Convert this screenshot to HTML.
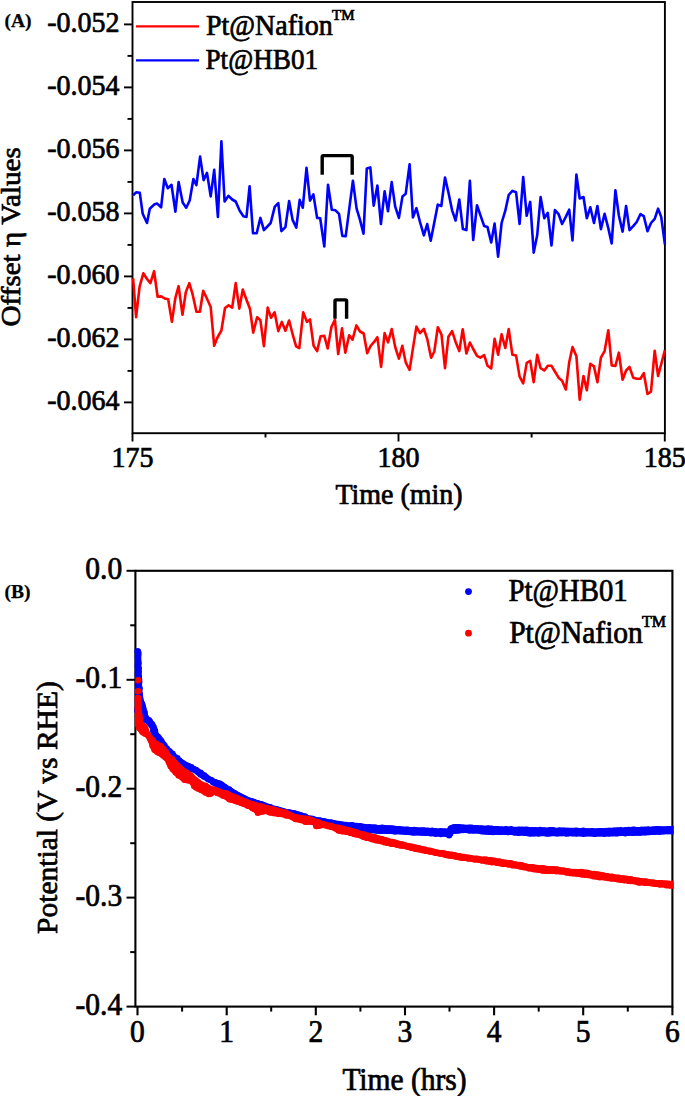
<!DOCTYPE html><html><head><meta charset="utf-8"><style>html,body{margin:0;padding:0;background:#fff;}svg{display:block;}text{font-family:"Liberation Serif",serif;fill:#000;stroke:#000;stroke-width:0.7px;}</style></head><body>
<svg width="685" height="1096" viewBox="0 0 685 1096">
<rect width="685" height="1096" fill="#fff"/>
<rect x="132.5" y="2.0" width="532.4" height="431.2" fill="none" stroke="#000" stroke-width="1.9"/>
<line x1="124" y1="24.4" x2="132.5" y2="24.4" stroke="#000" stroke-width="1.9"/>
<text transform="translate(119.5,31.9) scale(1,1.05)" font-size="28" text-anchor="end">-0.052</text>
<line x1="127.5" y1="55.9" x2="132.5" y2="55.9" stroke="#000" stroke-width="1.9"/>
<line x1="124" y1="87.4" x2="132.5" y2="87.4" stroke="#000" stroke-width="1.9"/>
<text transform="translate(119.5,94.9) scale(1,1.05)" font-size="28" text-anchor="end">-0.054</text>
<line x1="127.5" y1="118.9" x2="132.5" y2="118.9" stroke="#000" stroke-width="1.9"/>
<line x1="124" y1="150.4" x2="132.5" y2="150.4" stroke="#000" stroke-width="1.9"/>
<text transform="translate(119.5,157.9) scale(1,1.05)" font-size="28" text-anchor="end">-0.056</text>
<line x1="127.5" y1="181.9" x2="132.5" y2="181.9" stroke="#000" stroke-width="1.9"/>
<line x1="124" y1="213.4" x2="132.5" y2="213.4" stroke="#000" stroke-width="1.9"/>
<text transform="translate(119.5,220.9) scale(1,1.05)" font-size="28" text-anchor="end">-0.058</text>
<line x1="127.5" y1="244.9" x2="132.5" y2="244.9" stroke="#000" stroke-width="1.9"/>
<line x1="124" y1="276.4" x2="132.5" y2="276.4" stroke="#000" stroke-width="1.9"/>
<text transform="translate(119.5,283.9) scale(1,1.05)" font-size="28" text-anchor="end">-0.060</text>
<line x1="127.5" y1="307.9" x2="132.5" y2="307.9" stroke="#000" stroke-width="1.9"/>
<line x1="124" y1="339.4" x2="132.5" y2="339.4" stroke="#000" stroke-width="1.9"/>
<text transform="translate(119.5,346.9) scale(1,1.05)" font-size="28" text-anchor="end">-0.062</text>
<line x1="127.5" y1="370.9" x2="132.5" y2="370.9" stroke="#000" stroke-width="1.9"/>
<line x1="124" y1="402.4" x2="132.5" y2="402.4" stroke="#000" stroke-width="1.9"/>
<text transform="translate(119.5,409.9) scale(1,1.05)" font-size="28" text-anchor="end">-0.064</text>
<line x1="132.5" y1="433.2" x2="132.5" y2="441.5" stroke="#000" stroke-width="1.9"/>
<text transform="translate(132.5,466.8) scale(1,1.05)" font-size="28" text-anchor="middle">175</text>
<line x1="398.5" y1="433.2" x2="398.5" y2="441.5" stroke="#000" stroke-width="1.9"/>
<text transform="translate(398.5,466.8) scale(1,1.05)" font-size="28" text-anchor="middle">180</text>
<line x1="664.8" y1="433.2" x2="664.8" y2="441.5" stroke="#000" stroke-width="1.9"/>
<text transform="translate(664.8,466.8) scale(1,1.05)" font-size="28" text-anchor="middle">185</text>
<line x1="265.5" y1="433.2" x2="265.5" y2="437.5" stroke="#000" stroke-width="1.9"/>
<line x1="531.6" y1="433.2" x2="531.6" y2="437.5" stroke="#000" stroke-width="1.9"/>
<polyline points="133.1,195.4 136.1,192.3 139.8,192.9 142.7,213.8 147.0,223.0 149.8,208.7 154.1,204.6 157.2,203.6 161.1,207.3 164.3,179.0 167.8,188.2 171.5,184.8 175.4,211.7 178.6,182.1 182.7,202.6 186.2,207.7 189.7,200.5 193.4,179.0 196.4,185.2 200.1,156.6 203.6,180.1 207.0,172.9 210.7,196.4 214.2,169.9 217.9,216.9 221.4,141.2 224.6,201.5 228.5,195.8 232.2,199.5 235.7,201.5 239.7,210.7 243.4,216.2 246.5,216.9 249.6,186.2 253.0,233.2 256.7,233.2 260.4,217.9 263.9,230.1 270.7,223.0 274.8,206.6 278.3,203.2 281.4,231.2 285.4,227.1 289.1,201.1 292.6,219.9 296.3,227.7 299.7,199.9 302.8,207.7 306.5,167.8 310.0,200.5 313.4,194.4 317.1,217.9 320.2,218.3 324.3,246.5 328.0,184.8 331.8,209.7 335.5,210.3 339.0,213.8 342.3,235.9 345.7,236.3 352.9,180.7 356.6,208.7 360.0,219.9 363.5,233.8 366.8,168.4 370.3,167.4 373.7,205.6 377.4,185.6 380.9,224.0 384.6,191.3 388.0,211.3 391.7,182.1 395.2,206.6 398.9,217.9 402.5,196.4 405.7,193.8 409.6,164.3 412.9,217.5 416.4,208.1 420.0,222.0 423.9,235.3 427.2,224.0 430.7,240.8 434.1,223.6 437.8,204.6 441.3,206.0 445.0,177.6 448.4,192.3 452.1,210.3 455.6,220.5 459.3,199.5 462.9,229.1 466.4,230.1 469.9,180.7 473.2,240.0 477.0,205.2 480.3,214.8 484.2,226.1 487.5,227.1 491.2,242.4 494.6,223.6 498.1,256.7 501.6,223.0 505.3,210.7 508.7,195.0 512.4,190.9 516.1,192.3 519.6,224.0 523.2,177.0 526.7,215.8 530.2,201.9 533.7,252.6 537.2,235.3 540.6,197.0 544.3,218.3 547.8,212.8 551.5,245.5 554.9,210.1 558.6,214.2 562.1,224.0 565.8,216.9 569.2,209.7 572.5,240.4 576.4,174.6 579.7,198.5 583.5,197.0 586.8,218.3 590.3,207.3 594.0,223.0 597.4,206.0 600.9,229.1 604.6,213.8 608.3,228.1 611.7,243.4 615.4,190.3 618.9,215.8 622.6,231.6 626.1,206.0 629.5,230.1 633.2,226.1 636.7,222.0 640.4,214.2 643.8,216.2 647.5,231.2 651.0,223.0 654.7,218.9 658.1,208.7 661.2,216.9 664.9,244.4" fill="none" stroke="#0000ff" stroke-width="2.6" stroke-linejoin="round"/>
<polyline points="133.1,278.4 136.1,317.2 139.6,286.6 143.3,273.3 147.0,279.0 150.4,283.1 154.1,271.2 157.6,296.8 161.1,296.4 164.7,298.4 168.2,299.2 171.9,321.9 175.4,297.8 178.6,286.2 182.5,314.8 185.8,292.3 189.3,283.1 192.7,294.7 196.4,311.7 199.9,311.7 203.2,290.7 207.0,298.8 210.7,307.0 214.2,345.8 217.5,337.3 221.4,330.5 225.0,308.0 228.7,305.4 232.2,307.6 235.7,283.1 239.3,308.6 242.8,289.6 246.1,298.8 250.0,309.0 253.2,332.6 257.1,317.2 260.4,320.3 263.9,346.2 267.7,307.6 271.1,317.8 274.6,312.3 278.3,331.1 281.8,321.9 285.4,330.7 289.1,320.5 292.6,334.2 296.1,346.4 299.3,348.1 303.2,312.3 306.9,321.9 310.0,319.4 313.6,345.8 317.1,351.1 320.6,336.2 324.3,335.8 327.7,348.5 331.4,327.0 334.9,319.9 338.2,354.0 342.0,328.4 345.3,352.6 349.2,335.2 352.5,339.7 356.4,325.4 360.0,331.5 363.7,333.5 367.2,353.2 370.7,345.8 374.3,341.7 377.4,337.2 381.1,366.9 384.6,333.1 388.0,342.3 391.7,329.0 395.2,347.0 398.9,358.7 402.3,345.8 405.7,362.3 409.6,369.9 412.9,348.6 416.4,326.6 420.0,333.1 423.9,329.0 427.2,338.8 431.1,357.8 434.3,351.5 437.8,327.2 441.5,334.7 445.0,368.1 448.4,336.8 452.1,331.1 455.6,341.9 459.3,351.1 462.7,329.2 466.4,353.5 469.9,342.5 473.2,349.0 477.0,355.8 480.3,357.6 484.2,355.2 487.5,365.8 491.2,368.5 494.6,338.8 498.1,354.8 501.6,334.3 505.3,348.0 508.7,329.0 512.4,354.8 516.1,355.6 519.6,376.6 523.2,383.4 526.7,362.9 530.2,360.9 533.7,382.2 537.2,354.8 540.6,368.1 544.3,370.5 547.8,365.8 551.5,365.8 554.9,371.5 558.6,377.7 562.1,380.7 565.8,389.5 569.2,362.3 572.5,347.0 576.4,356.2 579.7,399.7 583.5,376.0 586.8,390.3 590.3,363.8 594.0,366.4 597.4,382.2 600.9,357.6 604.6,351.1 608.3,330.2 611.7,365.4 615.4,366.0 618.9,352.7 622.6,379.7 626.1,370.5 629.5,367.0 633.2,377.7 636.7,378.7 640.4,378.7 643.8,373.2 647.5,394.0 651.0,391.6 654.7,350.7 658.1,376.0 664.9,350.1" fill="none" stroke="#ff0000" stroke-width="2.6" stroke-linejoin="round"/>
<text transform="translate(19.8,236.8) rotate(-90) scale(1.045,1)" font-size="27.8" text-anchor="middle">Offset η Values</text>
<text transform="translate(399,504.2) scale(1,1.05)" font-size="28" text-anchor="middle">Time (min)</text>
<line x1="136" y1="26.3" x2="199" y2="26.3" stroke="#ff0000" stroke-width="2.2"/>
<line x1="136" y1="60.3" x2="199" y2="60.3" stroke="#0000ff" stroke-width="2.2"/>
<text transform="translate(206,34.7) scale(1,1.05)" font-size="28" text-anchor="start">Pt@Nafion</text>
<text x="332" y="20" font-size="15" text-anchor="start">TM</text>
<text transform="translate(205.5,68.5) scale(0.97,1.05)" font-size="28">Pt@HB01</text>
<path d="M322.2,174.7 V156.8 Q322.2,155.6 323.4,155.6 H351 Q352.2,155.6 352.2,156.8 V174.7" fill="none" stroke="#000" stroke-width="3.4"/>
<path d="M335,318.8 V301 Q335,299.9 336.1,299.9 H345.5 Q346.6,299.9 346.6,301 V318.8" fill="none" stroke="#000" stroke-width="3.4"/>
<text x="4.5" y="26.7" font-size="19.5" text-anchor="start" font-weight="bold" style="stroke-width:0.25px">(A)</text>
<rect x="135.4" y="570.8" width="537.0" height="435.80000000000007" fill="none" stroke="#000" stroke-width="2.1"/>
<clipPath id="cb"><rect x="134.3" y="568.8" width="539.2" height="439.80000000000007"/></clipPath>
<g clip-path="url(#cb)">
<polygon points="134.8,651.4 141.1,651.4 141.5,670.0 141.9,680.0 142.3,690.0 143.5,699.6 145.2,703.0 146.5,708.0 148.1,715.7 152.2,719.8 155.1,723.3 156.3,729.7 158.6,737.0 163.1,743.1 167.5,747.5 172.8,751.9 178.9,757.2 185.0,761.1 191.2,764.6 197.3,767.7 203.4,771.2 207.3,774.6 214.6,779.0 221.9,781.6 229.2,786.3 236.5,790.7 243.8,794.7 251.1,798.0 258.4,800.6 265.7,802.6 273.0,805.3 280.3,807.0 287.6,809.3 295.0,810.3 302.3,812.5 309.6,815.4 316.9,816.9 324.2,818.4 331.5,819.8 338.8,821.0 346.1,822.0 353.4,822.7 360.7,823.5 368.0,824.2 375.3,824.9 382.6,825.2 390.0,825.3 404.6,826.8 419.2,827.5 433.8,828.2 447.7,828.7 449.9,825.3 454.2,824.3 463.0,824.6 477.6,825.3 490.0,825.8 499.6,826.4 514.2,826.7 528.8,827.1 543.4,827.4 558.0,827.8 572.6,827.8 580.0,828.1 594.6,828.4 609.2,827.8 623.8,827.4 638.4,827.0 653.0,826.7 676.0,826.0 676.0,834.0 653.0,834.7 638.4,835.4 623.8,835.9 609.2,836.2 594.6,836.6 580.0,836.2 558.0,836.2 543.4,836.2 528.8,836.2 514.2,835.1 499.6,834.7 485.0,834.7 477.6,833.6 463.0,833.1 453.5,834.1 451.3,837.0 433.8,836.3 419.2,835.5 404.6,834.8 390.0,834.1 375.0,833.5 360.0,832.0 353.4,831.5 338.8,829.8 324.2,827.2 309.6,824.2 295.0,819.0 280.3,815.5 265.7,811.0 251.1,806.5 236.5,799.0 221.9,790.0 214.6,786.5 207.8,781.7 202.6,779.0 197.3,775.5 192.0,771.2 186.8,769.4 178.9,764.0 167.5,754.5 158.8,744.0 153.4,735.5 150.4,728.5 146.4,723.9 143.0,721.5 140.0,718.0 134.8,712.0 134.8,651.4" fill="#0000ff"/>
<circle cx="137.9" cy="651.4" r="3.2" fill="#0000ff"/>
<path d="M134.3,651.5a3.2,3.2 0 1,0 6.4,0a3.2,3.2 0 1,0 -6.4,0M135.2,653.2a3.2,3.2 0 1,0 6.4,0a3.2,3.2 0 1,0 -6.4,0M135.1,654.8a3.2,3.2 0 1,0 6.4,0a3.2,3.2 0 1,0 -6.4,0M134.5,656.5a3.2,3.2 0 1,0 6.4,0a3.2,3.2 0 1,0 -6.4,0M134.8,658.2a3.2,3.2 0 1,0 6.4,0a3.2,3.2 0 1,0 -6.4,0M134.8,659.9a3.2,3.2 0 1,0 6.4,0a3.2,3.2 0 1,0 -6.4,0M135.1,661.6a3.2,3.2 0 1,0 6.4,0a3.2,3.2 0 1,0 -6.4,0M135.3,663.3a3.2,3.2 0 1,0 6.4,0a3.2,3.2 0 1,0 -6.4,0M134.5,665.0a3.2,3.2 0 1,0 6.4,0a3.2,3.2 0 1,0 -6.4,0M134.5,666.7a3.2,3.2 0 1,0 6.4,0a3.2,3.2 0 1,0 -6.4,0M135.5,668.4a3.2,3.2 0 1,0 6.4,0a3.2,3.2 0 1,0 -6.4,0M135.0,670.1a3.2,3.2 0 1,0 6.4,0a3.2,3.2 0 1,0 -6.4,0M135.5,671.8a3.2,3.2 0 1,0 6.4,0a3.2,3.2 0 1,0 -6.4,0M134.6,673.5a3.2,3.2 0 1,0 6.4,0a3.2,3.2 0 1,0 -6.4,0M135.2,675.1a3.2,3.2 0 1,0 6.4,0a3.2,3.2 0 1,0 -6.4,0M135.6,676.8a3.2,3.2 0 1,0 6.4,0a3.2,3.2 0 1,0 -6.4,0M135.1,678.5a3.2,3.2 0 1,0 6.4,0a3.2,3.2 0 1,0 -6.4,0M136.0,680.1a3.2,3.2 0 1,0 6.4,0a3.2,3.2 0 1,0 -6.4,0M136.1,681.8a3.2,3.2 0 1,0 6.4,0a3.2,3.2 0 1,0 -6.4,0M135.1,683.5a3.2,3.2 0 1,0 6.4,0a3.2,3.2 0 1,0 -6.4,0M135.1,685.2a3.2,3.2 0 1,0 6.4,0a3.2,3.2 0 1,0 -6.4,0M135.8,686.8a3.2,3.2 0 1,0 6.4,0a3.2,3.2 0 1,0 -6.4,0M136.4,688.4a3.2,3.2 0 1,0 6.4,0a3.2,3.2 0 1,0 -6.4,0M135.8,690.4a3.2,3.2 0 1,0 6.4,0a3.2,3.2 0 1,0 -6.4,0M135.8,692.0a3.2,3.2 0 1,0 6.4,0a3.2,3.2 0 1,0 -6.4,0M136.2,693.6a3.2,3.2 0 1,0 6.4,0a3.2,3.2 0 1,0 -6.4,0M136.0,695.3a3.2,3.2 0 1,0 6.4,0a3.2,3.2 0 1,0 -6.4,0M136.4,696.8a3.2,3.2 0 1,0 6.4,0a3.2,3.2 0 1,0 -6.4,0M136.9,698.4a3.2,3.2 0 1,0 6.4,0a3.2,3.2 0 1,0 -6.4,0M137.4,701.0a3.2,3.2 0 1,0 6.4,0a3.2,3.2 0 1,0 -6.4,0M138.0,702.9a3.2,3.2 0 1,0 6.4,0a3.2,3.2 0 1,0 -6.4,0M138.6,703.9a3.2,3.2 0 1,0 6.4,0a3.2,3.2 0 1,0 -6.4,0M139.0,705.6a3.2,3.2 0 1,0 6.4,0a3.2,3.2 0 1,0 -6.4,0M139.7,707.2a3.2,3.2 0 1,0 6.4,0a3.2,3.2 0 1,0 -6.4,0M139.9,708.7a3.2,3.2 0 1,0 6.4,0a3.2,3.2 0 1,0 -6.4,0M140.0,710.7a3.2,3.2 0 1,0 6.4,0a3.2,3.2 0 1,0 -6.4,0M141.4,712.4a3.2,3.2 0 1,0 6.4,0a3.2,3.2 0 1,0 -6.4,0M141.4,714.4a3.2,3.2 0 1,0 6.4,0a3.2,3.2 0 1,0 -6.4,0M142.8,717.8a3.2,3.2 0 1,0 6.4,0a3.2,3.2 0 1,0 -6.4,0M143.7,719.6a3.2,3.2 0 1,0 6.4,0a3.2,3.2 0 1,0 -6.4,0M145.8,720.3a3.2,3.2 0 1,0 6.4,0a3.2,3.2 0 1,0 -6.4,0M146.9,721.6a3.2,3.2 0 1,0 6.4,0a3.2,3.2 0 1,0 -6.4,0M147.6,723.9a3.2,3.2 0 1,0 6.4,0a3.2,3.2 0 1,0 -6.4,0M148.6,723.9a3.2,3.2 0 1,0 6.4,0a3.2,3.2 0 1,0 -6.4,0M149.3,725.4a3.2,3.2 0 1,0 6.4,0a3.2,3.2 0 1,0 -6.4,0M149.6,727.0a3.2,3.2 0 1,0 6.4,0a3.2,3.2 0 1,0 -6.4,0M150.2,728.6a3.2,3.2 0 1,0 6.4,0a3.2,3.2 0 1,0 -6.4,0M150.0,730.7a3.2,3.2 0 1,0 6.4,0a3.2,3.2 0 1,0 -6.4,0M151.0,732.4a3.2,3.2 0 1,0 6.4,0a3.2,3.2 0 1,0 -6.4,0M151.4,734.3a3.2,3.2 0 1,0 6.4,0a3.2,3.2 0 1,0 -6.4,0M151.5,736.2a3.2,3.2 0 1,0 6.4,0a3.2,3.2 0 1,0 -6.4,0M152.9,738.8a3.2,3.2 0 1,0 6.4,0a3.2,3.2 0 1,0 -6.4,0M154.3,740.2a3.2,3.2 0 1,0 6.4,0a3.2,3.2 0 1,0 -6.4,0M155.4,741.7a3.2,3.2 0 1,0 6.4,0a3.2,3.2 0 1,0 -6.4,0M156.2,743.5a3.2,3.2 0 1,0 6.4,0a3.2,3.2 0 1,0 -6.4,0M157.7,745.3a3.2,3.2 0 1,0 6.4,0a3.2,3.2 0 1,0 -6.4,0M158.7,747.2a3.2,3.2 0 1,0 6.4,0a3.2,3.2 0 1,0 -6.4,0M160.4,748.5a3.2,3.2 0 1,0 6.4,0a3.2,3.2 0 1,0 -6.4,0M162.5,749.7a3.2,3.2 0 1,0 6.4,0a3.2,3.2 0 1,0 -6.4,0M163.5,751.1a3.2,3.2 0 1,0 6.4,0a3.2,3.2 0 1,0 -6.4,0M164.7,752.5a3.2,3.2 0 1,0 6.4,0a3.2,3.2 0 1,0 -6.4,0M166.3,753.2a3.2,3.2 0 1,0 6.4,0a3.2,3.2 0 1,0 -6.4,0M167.7,754.1a3.2,3.2 0 1,0 6.4,0a3.2,3.2 0 1,0 -6.4,0M168.9,755.2a3.2,3.2 0 1,0 6.4,0a3.2,3.2 0 1,0 -6.4,0M169.8,756.5a3.2,3.2 0 1,0 6.4,0a3.2,3.2 0 1,0 -6.4,0M171.1,757.6a3.2,3.2 0 1,0 6.4,0a3.2,3.2 0 1,0 -6.4,0M172.4,758.5a3.2,3.2 0 1,0 6.4,0a3.2,3.2 0 1,0 -6.4,0M174.2,759.6a3.2,3.2 0 1,0 6.4,0a3.2,3.2 0 1,0 -6.4,0M175.5,760.8a3.2,3.2 0 1,0 6.4,0a3.2,3.2 0 1,0 -6.4,0M177.0,762.0a3.2,3.2 0 1,0 6.4,0a3.2,3.2 0 1,0 -6.4,0M178.5,762.8a3.2,3.2 0 1,0 6.4,0a3.2,3.2 0 1,0 -6.4,0M179.9,764.4a3.2,3.2 0 1,0 6.4,0a3.2,3.2 0 1,0 -6.4,0M181.5,765.2a3.2,3.2 0 1,0 6.4,0a3.2,3.2 0 1,0 -6.4,0M183.4,765.4a3.2,3.2 0 1,0 6.4,0a3.2,3.2 0 1,0 -6.4,0M185.2,766.0a3.2,3.2 0 1,0 6.4,0a3.2,3.2 0 1,0 -6.4,0M186.6,767.4a3.2,3.2 0 1,0 6.4,0a3.2,3.2 0 1,0 -6.4,0M188.0,768.3a3.2,3.2 0 1,0 6.4,0a3.2,3.2 0 1,0 -6.4,0M189.4,769.4a3.2,3.2 0 1,0 6.4,0a3.2,3.2 0 1,0 -6.4,0M191.1,769.8a3.2,3.2 0 1,0 6.4,0a3.2,3.2 0 1,0 -6.4,0M192.8,770.0a3.2,3.2 0 1,0 6.4,0a3.2,3.2 0 1,0 -6.4,0M194.2,771.1a3.2,3.2 0 1,0 6.4,0a3.2,3.2 0 1,0 -6.4,0M195.6,772.2a3.2,3.2 0 1,0 6.4,0a3.2,3.2 0 1,0 -6.4,0M197.3,772.7a3.2,3.2 0 1,0 6.4,0a3.2,3.2 0 1,0 -6.4,0M197.9,773.9a3.2,3.2 0 1,0 6.4,0a3.2,3.2 0 1,0 -6.4,0M199.4,774.7a3.2,3.2 0 1,0 6.4,0a3.2,3.2 0 1,0 -6.4,0M201.1,775.5a3.2,3.2 0 1,0 6.4,0a3.2,3.2 0 1,0 -6.4,0M202.5,777.3a3.2,3.2 0 1,0 6.4,0a3.2,3.2 0 1,0 -6.4,0M203.9,778.3a3.2,3.2 0 1,0 6.4,0a3.2,3.2 0 1,0 -6.4,0M205.2,779.3a3.2,3.2 0 1,0 6.4,0a3.2,3.2 0 1,0 -6.4,0M206.9,779.9a3.2,3.2 0 1,0 6.4,0a3.2,3.2 0 1,0 -6.4,0M208.6,780.4a3.2,3.2 0 1,0 6.4,0a3.2,3.2 0 1,0 -6.4,0M210.1,782.6a3.2,3.2 0 1,0 6.4,0a3.2,3.2 0 1,0 -6.4,0M212.3,782.3a3.2,3.2 0 1,0 6.4,0a3.2,3.2 0 1,0 -6.4,0M214.1,783.0a3.2,3.2 0 1,0 6.4,0a3.2,3.2 0 1,0 -6.4,0M216.0,783.5a3.2,3.2 0 1,0 6.4,0a3.2,3.2 0 1,0 -6.4,0M217.1,784.0a3.2,3.2 0 1,0 6.4,0a3.2,3.2 0 1,0 -6.4,0M218.6,784.9a3.2,3.2 0 1,0 6.4,0a3.2,3.2 0 1,0 -6.4,0M219.9,786.2a3.2,3.2 0 1,0 6.4,0a3.2,3.2 0 1,0 -6.4,0M221.4,787.0a3.2,3.2 0 1,0 6.4,0a3.2,3.2 0 1,0 -6.4,0M222.8,788.1a3.2,3.2 0 1,0 6.4,0a3.2,3.2 0 1,0 -6.4,0M224.1,789.5a3.2,3.2 0 1,0 6.4,0a3.2,3.2 0 1,0 -6.4,0M226.0,789.5a3.2,3.2 0 1,0 6.4,0a3.2,3.2 0 1,0 -6.4,0M227.3,790.7a3.2,3.2 0 1,0 6.4,0a3.2,3.2 0 1,0 -6.4,0M228.5,792.0a3.2,3.2 0 1,0 6.4,0a3.2,3.2 0 1,0 -6.4,0M230.2,792.6a3.2,3.2 0 1,0 6.4,0a3.2,3.2 0 1,0 -6.4,0M231.8,793.5a3.2,3.2 0 1,0 6.4,0a3.2,3.2 0 1,0 -6.4,0M233.1,794.5a3.2,3.2 0 1,0 6.4,0a3.2,3.2 0 1,0 -6.4,0M234.6,795.3a3.2,3.2 0 1,0 6.4,0a3.2,3.2 0 1,0 -6.4,0M236.2,795.9a3.2,3.2 0 1,0 6.4,0a3.2,3.2 0 1,0 -6.4,0M237.7,796.6a3.2,3.2 0 1,0 6.4,0a3.2,3.2 0 1,0 -6.4,0M239.3,797.5a3.2,3.2 0 1,0 6.4,0a3.2,3.2 0 1,0 -6.4,0M240.7,798.3a3.2,3.2 0 1,0 6.4,0a3.2,3.2 0 1,0 -6.4,0M242.0,799.5a3.2,3.2 0 1,0 6.4,0a3.2,3.2 0 1,0 -6.4,0M243.5,799.9a3.2,3.2 0 1,0 6.4,0a3.2,3.2 0 1,0 -6.4,0M245.0,800.6a3.2,3.2 0 1,0 6.4,0a3.2,3.2 0 1,0 -6.4,0M246.9,800.9a3.2,3.2 0 1,0 6.4,0a3.2,3.2 0 1,0 -6.4,0M248.8,801.3a3.2,3.2 0 1,0 6.4,0a3.2,3.2 0 1,0 -6.4,0M250.6,802.0a3.2,3.2 0 1,0 6.4,0a3.2,3.2 0 1,0 -6.4,0M252.4,802.6a3.2,3.2 0 1,0 6.4,0a3.2,3.2 0 1,0 -6.4,0M254.5,803.3a3.2,3.2 0 1,0 6.4,0a3.2,3.2 0 1,0 -6.4,0M256.1,804.5a3.2,3.2 0 1,0 6.4,0a3.2,3.2 0 1,0 -6.4,0M258.1,804.3a3.2,3.2 0 1,0 6.4,0a3.2,3.2 0 1,0 -6.4,0M259.9,805.0a3.2,3.2 0 1,0 6.4,0a3.2,3.2 0 1,0 -6.4,0M261.2,806.1a3.2,3.2 0 1,0 6.4,0a3.2,3.2 0 1,0 -6.4,0M263.0,806.8a3.2,3.2 0 1,0 6.4,0a3.2,3.2 0 1,0 -6.4,0M264.8,807.5a3.2,3.2 0 1,0 6.4,0a3.2,3.2 0 1,0 -6.4,0M267.0,807.3a3.2,3.2 0 1,0 6.4,0a3.2,3.2 0 1,0 -6.4,0M269.0,808.7a3.2,3.2 0 1,0 6.4,0a3.2,3.2 0 1,0 -6.4,0M270.8,809.3a3.2,3.2 0 1,0 6.4,0a3.2,3.2 0 1,0 -6.4,0M272.8,809.1a3.2,3.2 0 1,0 6.4,0a3.2,3.2 0 1,0 -6.4,0M274.5,809.9a3.2,3.2 0 1,0 6.4,0a3.2,3.2 0 1,0 -6.4,0M276.0,810.5a3.2,3.2 0 1,0 6.4,0a3.2,3.2 0 1,0 -6.4,0M277.8,811.0a3.2,3.2 0 1,0 6.4,0a3.2,3.2 0 1,0 -6.4,0M279.8,811.2a3.2,3.2 0 1,0 6.4,0a3.2,3.2 0 1,0 -6.4,0M281.5,812.2a3.2,3.2 0 1,0 6.4,0a3.2,3.2 0 1,0 -6.4,0M283.9,812.7a3.2,3.2 0 1,0 6.4,0a3.2,3.2 0 1,0 -6.4,0M285.9,812.5a3.2,3.2 0 1,0 6.4,0a3.2,3.2 0 1,0 -6.4,0M287.7,813.0a3.2,3.2 0 1,0 6.4,0a3.2,3.2 0 1,0 -6.4,0M289.5,813.4a3.2,3.2 0 1,0 6.4,0a3.2,3.2 0 1,0 -6.4,0M290.9,813.4a3.2,3.2 0 1,0 6.4,0a3.2,3.2 0 1,0 -6.4,0M292.5,814.5a3.2,3.2 0 1,0 6.4,0a3.2,3.2 0 1,0 -6.4,0M294.5,814.6a3.2,3.2 0 1,0 6.4,0a3.2,3.2 0 1,0 -6.4,0M296.3,815.1a3.2,3.2 0 1,0 6.4,0a3.2,3.2 0 1,0 -6.4,0M297.8,815.8a3.2,3.2 0 1,0 6.4,0a3.2,3.2 0 1,0 -6.4,0M299.6,816.6a3.2,3.2 0 1,0 6.4,0a3.2,3.2 0 1,0 -6.4,0M301.7,816.5a3.2,3.2 0 1,0 6.4,0a3.2,3.2 0 1,0 -6.4,0M303.4,817.6a3.2,3.2 0 1,0 6.4,0a3.2,3.2 0 1,0 -6.4,0M305.7,818.9a3.2,3.2 0 1,0 6.4,0a3.2,3.2 0 1,0 -6.4,0M307.6,818.8a3.2,3.2 0 1,0 6.4,0a3.2,3.2 0 1,0 -6.4,0M309.5,818.9a3.2,3.2 0 1,0 6.4,0a3.2,3.2 0 1,0 -6.4,0M311.1,820.2a3.2,3.2 0 1,0 6.4,0a3.2,3.2 0 1,0 -6.4,0M312.9,820.6a3.2,3.2 0 1,0 6.4,0a3.2,3.2 0 1,0 -6.4,0M314.8,820.8a3.2,3.2 0 1,0 6.4,0a3.2,3.2 0 1,0 -6.4,0M316.8,820.5a3.2,3.2 0 1,0 6.4,0a3.2,3.2 0 1,0 -6.4,0M318.4,821.6a3.2,3.2 0 1,0 6.4,0a3.2,3.2 0 1,0 -6.4,0M320.4,821.3a3.2,3.2 0 1,0 6.4,0a3.2,3.2 0 1,0 -6.4,0M322.3,821.7a3.2,3.2 0 1,0 6.4,0a3.2,3.2 0 1,0 -6.4,0M324.1,822.2a3.2,3.2 0 1,0 6.4,0a3.2,3.2 0 1,0 -6.4,0M325.8,822.9a3.2,3.2 0 1,0 6.4,0a3.2,3.2 0 1,0 -6.4,0M327.9,822.4a3.2,3.2 0 1,0 6.4,0a3.2,3.2 0 1,0 -6.4,0M329.7,822.9a3.2,3.2 0 1,0 6.4,0a3.2,3.2 0 1,0 -6.4,0M331.4,823.5a3.2,3.2 0 1,0 6.4,0a3.2,3.2 0 1,0 -6.4,0M333.2,824.2a3.2,3.2 0 1,0 6.4,0a3.2,3.2 0 1,0 -6.4,0M335.2,824.0a3.2,3.2 0 1,0 6.4,0a3.2,3.2 0 1,0 -6.4,0M337.0,824.5a3.2,3.2 0 1,0 6.4,0a3.2,3.2 0 1,0 -6.4,0M338.8,824.6a3.2,3.2 0 1,0 6.4,0a3.2,3.2 0 1,0 -6.4,0M340.6,825.1a3.2,3.2 0 1,0 6.4,0a3.2,3.2 0 1,0 -6.4,0M342.6,825.0a3.2,3.2 0 1,0 6.4,0a3.2,3.2 0 1,0 -6.4,0M344.4,825.9a3.2,3.2 0 1,0 6.4,0a3.2,3.2 0 1,0 -6.4,0M346.2,825.8a3.2,3.2 0 1,0 6.4,0a3.2,3.2 0 1,0 -6.4,0M348.1,825.2a3.2,3.2 0 1,0 6.4,0a3.2,3.2 0 1,0 -6.4,0M349.9,825.4a3.2,3.2 0 1,0 6.4,0a3.2,3.2 0 1,0 -6.4,0M351.7,826.3a3.2,3.2 0 1,0 6.4,0a3.2,3.2 0 1,0 -6.4,0M353.5,825.9a3.2,3.2 0 1,0 6.4,0a3.2,3.2 0 1,0 -6.4,0M355.3,826.7a3.2,3.2 0 1,0 6.4,0a3.2,3.2 0 1,0 -6.4,0M357.2,826.2a3.2,3.2 0 1,0 6.4,0a3.2,3.2 0 1,0 -6.4,0M359.0,826.6a3.2,3.2 0 1,0 6.4,0a3.2,3.2 0 1,0 -6.4,0M360.8,827.1a3.2,3.2 0 1,0 6.4,0a3.2,3.2 0 1,0 -6.4,0M362.6,827.5a3.2,3.2 0 1,0 6.4,0a3.2,3.2 0 1,0 -6.4,0M364.4,828.0a3.2,3.2 0 1,0 6.4,0a3.2,3.2 0 1,0 -6.4,0M366.4,827.1a3.2,3.2 0 1,0 6.4,0a3.2,3.2 0 1,0 -6.4,0M368.1,828.3a3.2,3.2 0 1,0 6.4,0a3.2,3.2 0 1,0 -6.4,0M370.0,827.5a3.2,3.2 0 1,0 6.4,0a3.2,3.2 0 1,0 -6.4,0M372.0,827.5a3.2,3.2 0 1,0 6.4,0a3.2,3.2 0 1,0 -6.4,0M373.8,828.1a3.2,3.2 0 1,0 6.4,0a3.2,3.2 0 1,0 -6.4,0M375.6,828.6a3.2,3.2 0 1,0 6.4,0a3.2,3.2 0 1,0 -6.4,0M377.5,827.9a3.2,3.2 0 1,0 6.4,0a3.2,3.2 0 1,0 -6.4,0M379.4,827.8a3.2,3.2 0 1,0 6.4,0a3.2,3.2 0 1,0 -6.4,0M381.2,828.2a3.2,3.2 0 1,0 6.4,0a3.2,3.2 0 1,0 -6.4,0M383.1,828.4a3.2,3.2 0 1,0 6.4,0a3.2,3.2 0 1,0 -6.4,0M384.9,828.6a3.2,3.2 0 1,0 6.4,0a3.2,3.2 0 1,0 -6.4,0M386.5,828.7a3.2,3.2 0 1,0 6.4,0a3.2,3.2 0 1,0 -6.4,0M388.1,829.0a3.2,3.2 0 1,0 6.4,0a3.2,3.2 0 1,0 -6.4,0M389.7,828.6a3.2,3.2 0 1,0 6.4,0a3.2,3.2 0 1,0 -6.4,0M391.3,829.1a3.2,3.2 0 1,0 6.4,0a3.2,3.2 0 1,0 -6.4,0M392.9,829.5a3.2,3.2 0 1,0 6.4,0a3.2,3.2 0 1,0 -6.4,0M394.5,829.8a3.2,3.2 0 1,0 6.4,0a3.2,3.2 0 1,0 -6.4,0M396.2,829.3a3.2,3.2 0 1,0 6.4,0a3.2,3.2 0 1,0 -6.4,0M397.8,829.9a3.2,3.2 0 1,0 6.4,0a3.2,3.2 0 1,0 -6.4,0M399.5,829.8a3.2,3.2 0 1,0 6.4,0a3.2,3.2 0 1,0 -6.4,0M401.2,830.2a3.2,3.2 0 1,0 6.4,0a3.2,3.2 0 1,0 -6.4,0M402.9,829.6a3.2,3.2 0 1,0 6.4,0a3.2,3.2 0 1,0 -6.4,0M404.5,829.7a3.2,3.2 0 1,0 6.4,0a3.2,3.2 0 1,0 -6.4,0M406.1,830.8a3.2,3.2 0 1,0 6.4,0a3.2,3.2 0 1,0 -6.4,0M407.7,830.7a3.2,3.2 0 1,0 6.4,0a3.2,3.2 0 1,0 -6.4,0M409.3,830.6a3.2,3.2 0 1,0 6.4,0a3.2,3.2 0 1,0 -6.4,0M411.0,829.9a3.2,3.2 0 1,0 6.4,0a3.2,3.2 0 1,0 -6.4,0M412.6,830.2a3.2,3.2 0 1,0 6.4,0a3.2,3.2 0 1,0 -6.4,0M414.2,830.8a3.2,3.2 0 1,0 6.4,0a3.2,3.2 0 1,0 -6.4,0M415.8,831.0a3.2,3.2 0 1,0 6.4,0a3.2,3.2 0 1,0 -6.4,0M417.5,830.6a3.2,3.2 0 1,0 6.4,0a3.2,3.2 0 1,0 -6.4,0M419.1,830.4a3.2,3.2 0 1,0 6.4,0a3.2,3.2 0 1,0 -6.4,0M420.7,830.4a3.2,3.2 0 1,0 6.4,0a3.2,3.2 0 1,0 -6.4,0M422.3,831.2a3.2,3.2 0 1,0 6.4,0a3.2,3.2 0 1,0 -6.4,0M424.0,830.6a3.2,3.2 0 1,0 6.4,0a3.2,3.2 0 1,0 -6.4,0M425.6,830.9a3.2,3.2 0 1,0 6.4,0a3.2,3.2 0 1,0 -6.4,0M427.2,831.3a3.2,3.2 0 1,0 6.4,0a3.2,3.2 0 1,0 -6.4,0M428.9,830.7a3.2,3.2 0 1,0 6.4,0a3.2,3.2 0 1,0 -6.4,0M430.5,831.7a3.2,3.2 0 1,0 6.4,0a3.2,3.2 0 1,0 -6.4,0M432.2,831.2a3.2,3.2 0 1,0 6.4,0a3.2,3.2 0 1,0 -6.4,0M433.9,832.0a3.2,3.2 0 1,0 6.4,0a3.2,3.2 0 1,0 -6.4,0M435.7,832.0a3.2,3.2 0 1,0 6.4,0a3.2,3.2 0 1,0 -6.4,0M437.5,831.2a3.2,3.2 0 1,0 6.4,0a3.2,3.2 0 1,0 -6.4,0M439.2,832.1a3.2,3.2 0 1,0 6.4,0a3.2,3.2 0 1,0 -6.4,0M440.9,831.5a3.2,3.2 0 1,0 6.4,0a3.2,3.2 0 1,0 -6.4,0M442.7,831.7a3.2,3.2 0 1,0 6.4,0a3.2,3.2 0 1,0 -6.4,0M446.8,830.2a3.2,3.2 0 1,0 6.4,0a3.2,3.2 0 1,0 -6.4,0M448.4,828.8a3.2,3.2 0 1,0 6.4,0a3.2,3.2 0 1,0 -6.4,0M447.5,828.6a3.2,3.2 0 1,0 6.4,0a3.2,3.2 0 1,0 -6.4,0M449.6,828.2a3.2,3.2 0 1,0 6.4,0a3.2,3.2 0 1,0 -6.4,0M450.9,827.1a3.2,3.2 0 1,0 6.4,0a3.2,3.2 0 1,0 -6.4,0M452.7,827.4a3.2,3.2 0 1,0 6.4,0a3.2,3.2 0 1,0 -6.4,0M454.4,827.1a3.2,3.2 0 1,0 6.4,0a3.2,3.2 0 1,0 -6.4,0M456.2,827.2a3.2,3.2 0 1,0 6.4,0a3.2,3.2 0 1,0 -6.4,0M457.9,828.2a3.2,3.2 0 1,0 6.4,0a3.2,3.2 0 1,0 -6.4,0M459.6,827.7a3.2,3.2 0 1,0 6.4,0a3.2,3.2 0 1,0 -6.4,0M461.2,828.3a3.2,3.2 0 1,0 6.4,0a3.2,3.2 0 1,0 -6.4,0M462.9,828.5a3.2,3.2 0 1,0 6.4,0a3.2,3.2 0 1,0 -6.4,0M464.5,828.5a3.2,3.2 0 1,0 6.4,0a3.2,3.2 0 1,0 -6.4,0M466.2,827.7a3.2,3.2 0 1,0 6.4,0a3.2,3.2 0 1,0 -6.4,0M467.8,827.8a3.2,3.2 0 1,0 6.4,0a3.2,3.2 0 1,0 -6.4,0M469.4,827.9a3.2,3.2 0 1,0 6.4,0a3.2,3.2 0 1,0 -6.4,0M471.0,828.5a3.2,3.2 0 1,0 6.4,0a3.2,3.2 0 1,0 -6.4,0M472.6,828.3a3.2,3.2 0 1,0 6.4,0a3.2,3.2 0 1,0 -6.4,0M474.3,828.2a3.2,3.2 0 1,0 6.4,0a3.2,3.2 0 1,0 -6.4,0M476.0,828.7a3.2,3.2 0 1,0 6.4,0a3.2,3.2 0 1,0 -6.4,0M477.8,828.6a3.2,3.2 0 1,0 6.4,0a3.2,3.2 0 1,0 -6.4,0M479.6,829.0a3.2,3.2 0 1,0 6.4,0a3.2,3.2 0 1,0 -6.4,0M481.3,829.3a3.2,3.2 0 1,0 6.4,0a3.2,3.2 0 1,0 -6.4,0M483.1,829.1a3.2,3.2 0 1,0 6.4,0a3.2,3.2 0 1,0 -6.4,0M484.9,828.5a3.2,3.2 0 1,0 6.4,0a3.2,3.2 0 1,0 -6.4,0M486.6,828.9a3.2,3.2 0 1,0 6.4,0a3.2,3.2 0 1,0 -6.4,0M488.2,828.6a3.2,3.2 0 1,0 6.4,0a3.2,3.2 0 1,0 -6.4,0M489.8,829.2a3.2,3.2 0 1,0 6.4,0a3.2,3.2 0 1,0 -6.4,0M491.4,829.6a3.2,3.2 0 1,0 6.4,0a3.2,3.2 0 1,0 -6.4,0M493.0,829.1a3.2,3.2 0 1,0 6.4,0a3.2,3.2 0 1,0 -6.4,0M494.6,829.1a3.2,3.2 0 1,0 6.4,0a3.2,3.2 0 1,0 -6.4,0M496.3,830.2a3.2,3.2 0 1,0 6.4,0a3.2,3.2 0 1,0 -6.4,0M498.0,829.4a3.2,3.2 0 1,0 6.4,0a3.2,3.2 0 1,0 -6.4,0M499.6,830.2a3.2,3.2 0 1,0 6.4,0a3.2,3.2 0 1,0 -6.4,0M501.2,830.2a3.2,3.2 0 1,0 6.4,0a3.2,3.2 0 1,0 -6.4,0M502.8,829.3a3.2,3.2 0 1,0 6.4,0a3.2,3.2 0 1,0 -6.4,0M504.4,830.3a3.2,3.2 0 1,0 6.4,0a3.2,3.2 0 1,0 -6.4,0M506.1,830.1a3.2,3.2 0 1,0 6.4,0a3.2,3.2 0 1,0 -6.4,0M507.7,829.2a3.2,3.2 0 1,0 6.4,0a3.2,3.2 0 1,0 -6.4,0M509.3,830.0a3.2,3.2 0 1,0 6.4,0a3.2,3.2 0 1,0 -6.4,0M510.9,830.4a3.2,3.2 0 1,0 6.4,0a3.2,3.2 0 1,0 -6.4,0M512.5,830.3a3.2,3.2 0 1,0 6.4,0a3.2,3.2 0 1,0 -6.4,0M514.1,830.3a3.2,3.2 0 1,0 6.4,0a3.2,3.2 0 1,0 -6.4,0M515.8,829.7a3.2,3.2 0 1,0 6.4,0a3.2,3.2 0 1,0 -6.4,0M517.4,830.6a3.2,3.2 0 1,0 6.4,0a3.2,3.2 0 1,0 -6.4,0M519.0,829.6a3.2,3.2 0 1,0 6.4,0a3.2,3.2 0 1,0 -6.4,0M520.6,830.3a3.2,3.2 0 1,0 6.4,0a3.2,3.2 0 1,0 -6.4,0M522.3,829.6a3.2,3.2 0 1,0 6.4,0a3.2,3.2 0 1,0 -6.4,0M523.9,829.8a3.2,3.2 0 1,0 6.4,0a3.2,3.2 0 1,0 -6.4,0M525.5,830.5a3.2,3.2 0 1,0 6.4,0a3.2,3.2 0 1,0 -6.4,0M527.2,830.6a3.2,3.2 0 1,0 6.4,0a3.2,3.2 0 1,0 -6.4,0M528.8,830.4a3.2,3.2 0 1,0 6.4,0a3.2,3.2 0 1,0 -6.4,0M530.4,830.9a3.2,3.2 0 1,0 6.4,0a3.2,3.2 0 1,0 -6.4,0M532.0,830.3a3.2,3.2 0 1,0 6.4,0a3.2,3.2 0 1,0 -6.4,0M533.6,831.0a3.2,3.2 0 1,0 6.4,0a3.2,3.2 0 1,0 -6.4,0M535.3,831.1a3.2,3.2 0 1,0 6.4,0a3.2,3.2 0 1,0 -6.4,0M536.9,830.0a3.2,3.2 0 1,0 6.4,0a3.2,3.2 0 1,0 -6.4,0M538.5,830.8a3.2,3.2 0 1,0 6.4,0a3.2,3.2 0 1,0 -6.4,0M540.1,830.5a3.2,3.2 0 1,0 6.4,0a3.2,3.2 0 1,0 -6.4,0M541.7,830.7a3.2,3.2 0 1,0 6.4,0a3.2,3.2 0 1,0 -6.4,0M543.4,830.9a3.2,3.2 0 1,0 6.4,0a3.2,3.2 0 1,0 -6.4,0M545.0,831.3a3.2,3.2 0 1,0 6.4,0a3.2,3.2 0 1,0 -6.4,0M546.6,830.3a3.2,3.2 0 1,0 6.4,0a3.2,3.2 0 1,0 -6.4,0M548.2,830.3a3.2,3.2 0 1,0 6.4,0a3.2,3.2 0 1,0 -6.4,0M549.9,830.3a3.2,3.2 0 1,0 6.4,0a3.2,3.2 0 1,0 -6.4,0M551.5,831.4a3.2,3.2 0 1,0 6.4,0a3.2,3.2 0 1,0 -6.4,0M553.1,831.3a3.2,3.2 0 1,0 6.4,0a3.2,3.2 0 1,0 -6.4,0M554.8,830.9a3.2,3.2 0 1,0 6.4,0a3.2,3.2 0 1,0 -6.4,0M556.4,830.4a3.2,3.2 0 1,0 6.4,0a3.2,3.2 0 1,0 -6.4,0M558.0,830.9a3.2,3.2 0 1,0 6.4,0a3.2,3.2 0 1,0 -6.4,0M559.7,830.8a3.2,3.2 0 1,0 6.4,0a3.2,3.2 0 1,0 -6.4,0M561.3,830.8a3.2,3.2 0 1,0 6.4,0a3.2,3.2 0 1,0 -6.4,0M562.9,831.3a3.2,3.2 0 1,0 6.4,0a3.2,3.2 0 1,0 -6.4,0M564.5,831.0a3.2,3.2 0 1,0 6.4,0a3.2,3.2 0 1,0 -6.4,0M566.2,831.2a3.2,3.2 0 1,0 6.4,0a3.2,3.2 0 1,0 -6.4,0M567.8,831.3a3.2,3.2 0 1,0 6.4,0a3.2,3.2 0 1,0 -6.4,0M569.3,831.5a3.2,3.2 0 1,0 6.4,0a3.2,3.2 0 1,0 -6.4,0M571.1,831.3a3.2,3.2 0 1,0 6.4,0a3.2,3.2 0 1,0 -6.4,0M573.0,830.6a3.2,3.2 0 1,0 6.4,0a3.2,3.2 0 1,0 -6.4,0M574.8,831.3a3.2,3.2 0 1,0 6.4,0a3.2,3.2 0 1,0 -6.4,0M576.7,831.1a3.2,3.2 0 1,0 6.4,0a3.2,3.2 0 1,0 -6.4,0M578.4,831.2a3.2,3.2 0 1,0 6.4,0a3.2,3.2 0 1,0 -6.4,0M580.0,830.8a3.2,3.2 0 1,0 6.4,0a3.2,3.2 0 1,0 -6.4,0M581.6,831.5a3.2,3.2 0 1,0 6.4,0a3.2,3.2 0 1,0 -6.4,0M583.2,831.7a3.2,3.2 0 1,0 6.4,0a3.2,3.2 0 1,0 -6.4,0M584.8,831.7a3.2,3.2 0 1,0 6.4,0a3.2,3.2 0 1,0 -6.4,0M586.5,831.7a3.2,3.2 0 1,0 6.4,0a3.2,3.2 0 1,0 -6.4,0M588.1,831.1a3.2,3.2 0 1,0 6.4,0a3.2,3.2 0 1,0 -6.4,0M589.7,831.1a3.2,3.2 0 1,0 6.4,0a3.2,3.2 0 1,0 -6.4,0M591.5,831.8a3.2,3.2 0 1,0 6.4,0a3.2,3.2 0 1,0 -6.4,0M593.2,831.7a3.2,3.2 0 1,0 6.4,0a3.2,3.2 0 1,0 -6.4,0M594.8,831.4a3.2,3.2 0 1,0 6.4,0a3.2,3.2 0 1,0 -6.4,0M596.4,831.3a3.2,3.2 0 1,0 6.4,0a3.2,3.2 0 1,0 -6.4,0M598.0,831.2a3.2,3.2 0 1,0 6.4,0a3.2,3.2 0 1,0 -6.4,0M599.7,831.6a3.2,3.2 0 1,0 6.4,0a3.2,3.2 0 1,0 -6.4,0M601.3,831.8a3.2,3.2 0 1,0 6.4,0a3.2,3.2 0 1,0 -6.4,0M602.9,831.4a3.2,3.2 0 1,0 6.4,0a3.2,3.2 0 1,0 -6.4,0M604.5,831.6a3.2,3.2 0 1,0 6.4,0a3.2,3.2 0 1,0 -6.4,0M606.1,830.9a3.2,3.2 0 1,0 6.4,0a3.2,3.2 0 1,0 -6.4,0M607.7,831.5a3.2,3.2 0 1,0 6.4,0a3.2,3.2 0 1,0 -6.4,0M609.3,831.4a3.2,3.2 0 1,0 6.4,0a3.2,3.2 0 1,0 -6.4,0M610.9,830.7a3.2,3.2 0 1,0 6.4,0a3.2,3.2 0 1,0 -6.4,0M612.6,831.1a3.2,3.2 0 1,0 6.4,0a3.2,3.2 0 1,0 -6.4,0M614.2,830.4a3.2,3.2 0 1,0 6.4,0a3.2,3.2 0 1,0 -6.4,0M615.8,830.7a3.2,3.2 0 1,0 6.4,0a3.2,3.2 0 1,0 -6.4,0M617.4,830.3a3.2,3.2 0 1,0 6.4,0a3.2,3.2 0 1,0 -6.4,0M619.1,831.1a3.2,3.2 0 1,0 6.4,0a3.2,3.2 0 1,0 -6.4,0M620.7,830.6a3.2,3.2 0 1,0 6.4,0a3.2,3.2 0 1,0 -6.4,0M622.3,830.2a3.2,3.2 0 1,0 6.4,0a3.2,3.2 0 1,0 -6.4,0M623.9,831.0a3.2,3.2 0 1,0 6.4,0a3.2,3.2 0 1,0 -6.4,0M625.5,829.9a3.2,3.2 0 1,0 6.4,0a3.2,3.2 0 1,0 -6.4,0M627.2,830.8a3.2,3.2 0 1,0 6.4,0a3.2,3.2 0 1,0 -6.4,0M628.8,830.0a3.2,3.2 0 1,0 6.4,0a3.2,3.2 0 1,0 -6.4,0M630.4,829.8a3.2,3.2 0 1,0 6.4,0a3.2,3.2 0 1,0 -6.4,0M632.0,829.9a3.2,3.2 0 1,0 6.4,0a3.2,3.2 0 1,0 -6.4,0M633.7,830.5a3.2,3.2 0 1,0 6.4,0a3.2,3.2 0 1,0 -6.4,0M635.3,830.7a3.2,3.2 0 1,0 6.4,0a3.2,3.2 0 1,0 -6.4,0M636.9,830.1a3.2,3.2 0 1,0 6.4,0a3.2,3.2 0 1,0 -6.4,0M638.5,829.6a3.2,3.2 0 1,0 6.4,0a3.2,3.2 0 1,0 -6.4,0M640.1,830.3a3.2,3.2 0 1,0 6.4,0a3.2,3.2 0 1,0 -6.4,0M641.7,829.6a3.2,3.2 0 1,0 6.4,0a3.2,3.2 0 1,0 -6.4,0M643.4,830.5a3.2,3.2 0 1,0 6.4,0a3.2,3.2 0 1,0 -6.4,0M645.0,829.5a3.2,3.2 0 1,0 6.4,0a3.2,3.2 0 1,0 -6.4,0M646.6,830.5a3.2,3.2 0 1,0 6.4,0a3.2,3.2 0 1,0 -6.4,0M648.2,830.2a3.2,3.2 0 1,0 6.4,0a3.2,3.2 0 1,0 -6.4,0M649.9,829.4a3.2,3.2 0 1,0 6.4,0a3.2,3.2 0 1,0 -6.4,0M651.5,829.5a3.2,3.2 0 1,0 6.4,0a3.2,3.2 0 1,0 -6.4,0M653.2,829.3a3.2,3.2 0 1,0 6.4,0a3.2,3.2 0 1,0 -6.4,0M654.8,829.3a3.2,3.2 0 1,0 6.4,0a3.2,3.2 0 1,0 -6.4,0M656.5,829.4a3.2,3.2 0 1,0 6.4,0a3.2,3.2 0 1,0 -6.4,0M658.1,829.4a3.2,3.2 0 1,0 6.4,0a3.2,3.2 0 1,0 -6.4,0M659.8,830.0a3.2,3.2 0 1,0 6.4,0a3.2,3.2 0 1,0 -6.4,0M661.4,829.6a3.2,3.2 0 1,0 6.4,0a3.2,3.2 0 1,0 -6.4,0M663.1,829.9a3.2,3.2 0 1,0 6.4,0a3.2,3.2 0 1,0 -6.4,0M664.7,829.2a3.2,3.2 0 1,0 6.4,0a3.2,3.2 0 1,0 -6.4,0M666.3,829.2a3.2,3.2 0 1,0 6.4,0a3.2,3.2 0 1,0 -6.4,0M668.0,829.6a3.2,3.2 0 1,0 6.4,0a3.2,3.2 0 1,0 -6.4,0M669.6,829.8a3.2,3.2 0 1,0 6.4,0a3.2,3.2 0 1,0 -6.4,0M671.2,828.7a3.2,3.2 0 1,0 6.4,0a3.2,3.2 0 1,0 -6.4,0M133.6,710.3a3.2,3.2 0 1,0 6.4,0a3.2,3.2 0 1,0 -6.4,0M134.9,711.8a3.2,3.2 0 1,0 6.4,0a3.2,3.2 0 1,0 -6.4,0M137.0,712.6a3.2,3.2 0 1,0 6.4,0a3.2,3.2 0 1,0 -6.4,0M138.3,714.1a3.2,3.2 0 1,0 6.4,0a3.2,3.2 0 1,0 -6.4,0M138.9,716.2a3.2,3.2 0 1,0 6.4,0a3.2,3.2 0 1,0 -6.4,0M140.5,717.9a3.2,3.2 0 1,0 6.4,0a3.2,3.2 0 1,0 -6.4,0M141.5,719.1a3.2,3.2 0 1,0 6.4,0a3.2,3.2 0 1,0 -6.4,0M143.5,719.9a3.2,3.2 0 1,0 6.4,0a3.2,3.2 0 1,0 -6.4,0M145.5,721.9a3.2,3.2 0 1,0 6.4,0a3.2,3.2 0 1,0 -6.4,0M146.9,723.4a3.2,3.2 0 1,0 6.4,0a3.2,3.2 0 1,0 -6.4,0M148.2,724.9a3.2,3.2 0 1,0 6.4,0a3.2,3.2 0 1,0 -6.4,0M150.5,727.1a3.2,3.2 0 1,0 6.4,0a3.2,3.2 0 1,0 -6.4,0M151.0,729.0a3.2,3.2 0 1,0 6.4,0a3.2,3.2 0 1,0 -6.4,0M151.8,730.7a3.2,3.2 0 1,0 6.4,0a3.2,3.2 0 1,0 -6.4,0M152.1,732.6a3.2,3.2 0 1,0 6.4,0a3.2,3.2 0 1,0 -6.4,0M152.4,734.1a3.2,3.2 0 1,0 6.4,0a3.2,3.2 0 1,0 -6.4,0M153.3,735.5a3.2,3.2 0 1,0 6.4,0a3.2,3.2 0 1,0 -6.4,0M154.7,736.6a3.2,3.2 0 1,0 6.4,0a3.2,3.2 0 1,0 -6.4,0M155.7,738.0a3.2,3.2 0 1,0 6.4,0a3.2,3.2 0 1,0 -6.4,0M156.7,739.3a3.2,3.2 0 1,0 6.4,0a3.2,3.2 0 1,0 -6.4,0M157.9,740.6a3.2,3.2 0 1,0 6.4,0a3.2,3.2 0 1,0 -6.4,0M158.5,741.6a3.2,3.2 0 1,0 6.4,0a3.2,3.2 0 1,0 -6.4,0M159.2,743.2a3.2,3.2 0 1,0 6.4,0a3.2,3.2 0 1,0 -6.4,0M160.4,744.4a3.2,3.2 0 1,0 6.4,0a3.2,3.2 0 1,0 -6.4,0M161.4,745.8a3.2,3.2 0 1,0 6.4,0a3.2,3.2 0 1,0 -6.4,0M162.1,747.5a3.2,3.2 0 1,0 6.4,0a3.2,3.2 0 1,0 -6.4,0M163.5,748.5a3.2,3.2 0 1,0 6.4,0a3.2,3.2 0 1,0 -6.4,0M164.5,749.9a3.2,3.2 0 1,0 6.4,0a3.2,3.2 0 1,0 -6.4,0M165.9,750.9a3.2,3.2 0 1,0 6.4,0a3.2,3.2 0 1,0 -6.4,0M166.7,751.6a3.2,3.2 0 1,0 6.4,0a3.2,3.2 0 1,0 -6.4,0M167.7,752.9a3.2,3.2 0 1,0 6.4,0a3.2,3.2 0 1,0 -6.4,0M169.2,753.8a3.2,3.2 0 1,0 6.4,0a3.2,3.2 0 1,0 -6.4,0M170.1,755.2a3.2,3.2 0 1,0 6.4,0a3.2,3.2 0 1,0 -6.4,0M171.0,756.7a3.2,3.2 0 1,0 6.4,0a3.2,3.2 0 1,0 -6.4,0M172.5,757.5a3.2,3.2 0 1,0 6.4,0a3.2,3.2 0 1,0 -6.4,0M174.2,758.1a3.2,3.2 0 1,0 6.4,0a3.2,3.2 0 1,0 -6.4,0M174.9,759.8a3.2,3.2 0 1,0 6.4,0a3.2,3.2 0 1,0 -6.4,0M176.3,760.8a3.2,3.2 0 1,0 6.4,0a3.2,3.2 0 1,0 -6.4,0M177.3,761.6a3.2,3.2 0 1,0 6.4,0a3.2,3.2 0 1,0 -6.4,0M178.8,762.8a3.2,3.2 0 1,0 6.4,0a3.2,3.2 0 1,0 -6.4,0M180.5,763.8a3.2,3.2 0 1,0 6.4,0a3.2,3.2 0 1,0 -6.4,0M182.0,764.9a3.2,3.2 0 1,0 6.4,0a3.2,3.2 0 1,0 -6.4,0M183.9,765.5a3.2,3.2 0 1,0 6.4,0a3.2,3.2 0 1,0 -6.4,0M184.5,766.9a3.2,3.2 0 1,0 6.4,0a3.2,3.2 0 1,0 -6.4,0M186.2,767.5a3.2,3.2 0 1,0 6.4,0a3.2,3.2 0 1,0 -6.4,0M188.2,767.2a3.2,3.2 0 1,0 6.4,0a3.2,3.2 0 1,0 -6.4,0M190.6,769.0a3.2,3.2 0 1,0 6.4,0a3.2,3.2 0 1,0 -6.4,0M192.0,770.0a3.2,3.2 0 1,0 6.4,0a3.2,3.2 0 1,0 -6.4,0M193.5,770.8a3.2,3.2 0 1,0 6.4,0a3.2,3.2 0 1,0 -6.4,0M194.8,772.0a3.2,3.2 0 1,0 6.4,0a3.2,3.2 0 1,0 -6.4,0M195.9,772.8a3.2,3.2 0 1,0 6.4,0a3.2,3.2 0 1,0 -6.4,0M197.3,774.4a3.2,3.2 0 1,0 6.4,0a3.2,3.2 0 1,0 -6.4,0M199.4,775.2a3.2,3.2 0 1,0 6.4,0a3.2,3.2 0 1,0 -6.4,0M200.7,776.5a3.2,3.2 0 1,0 6.4,0a3.2,3.2 0 1,0 -6.4,0M202.7,776.9a3.2,3.2 0 1,0 6.4,0a3.2,3.2 0 1,0 -6.4,0M204.1,778.4a3.2,3.2 0 1,0 6.4,0a3.2,3.2 0 1,0 -6.4,0M206.2,779.5a3.2,3.2 0 1,0 6.4,0a3.2,3.2 0 1,0 -6.4,0M207.8,780.0a3.2,3.2 0 1,0 6.4,0a3.2,3.2 0 1,0 -6.4,0M209.1,781.1a3.2,3.2 0 1,0 6.4,0a3.2,3.2 0 1,0 -6.4,0M210.2,782.4a3.2,3.2 0 1,0 6.4,0a3.2,3.2 0 1,0 -6.4,0M211.7,783.1a3.2,3.2 0 1,0 6.4,0a3.2,3.2 0 1,0 -6.4,0M212.8,783.6a3.2,3.2 0 1,0 6.4,0a3.2,3.2 0 1,0 -6.4,0M214.4,784.0a3.2,3.2 0 1,0 6.4,0a3.2,3.2 0 1,0 -6.4,0M215.8,784.8a3.2,3.2 0 1,0 6.4,0a3.2,3.2 0 1,0 -6.4,0M217.1,785.9a3.2,3.2 0 1,0 6.4,0a3.2,3.2 0 1,0 -6.4,0M218.8,786.1a3.2,3.2 0 1,0 6.4,0a3.2,3.2 0 1,0 -6.4,0M220.1,787.7a3.2,3.2 0 1,0 6.4,0a3.2,3.2 0 1,0 -6.4,0M222.0,787.9a3.2,3.2 0 1,0 6.4,0a3.2,3.2 0 1,0 -6.4,0M223.0,789.5a3.2,3.2 0 1,0 6.4,0a3.2,3.2 0 1,0 -6.4,0M224.9,789.8a3.2,3.2 0 1,0 6.4,0a3.2,3.2 0 1,0 -6.4,0M225.9,791.3a3.2,3.2 0 1,0 6.4,0a3.2,3.2 0 1,0 -6.4,0M227.5,792.0a3.2,3.2 0 1,0 6.4,0a3.2,3.2 0 1,0 -6.4,0M229.1,792.7a3.2,3.2 0 1,0 6.4,0a3.2,3.2 0 1,0 -6.4,0M230.6,793.6a3.2,3.2 0 1,0 6.4,0a3.2,3.2 0 1,0 -6.4,0M232.0,794.6a3.2,3.2 0 1,0 6.4,0a3.2,3.2 0 1,0 -6.4,0M233.5,795.5a3.2,3.2 0 1,0 6.4,0a3.2,3.2 0 1,0 -6.4,0M234.9,796.0a3.2,3.2 0 1,0 6.4,0a3.2,3.2 0 1,0 -6.4,0M236.4,796.6a3.2,3.2 0 1,0 6.4,0a3.2,3.2 0 1,0 -6.4,0M237.7,797.7a3.2,3.2 0 1,0 6.4,0a3.2,3.2 0 1,0 -6.4,0M238.9,798.9a3.2,3.2 0 1,0 6.4,0a3.2,3.2 0 1,0 -6.4,0M240.5,799.3a3.2,3.2 0 1,0 6.4,0a3.2,3.2 0 1,0 -6.4,0M242.3,799.5a3.2,3.2 0 1,0 6.4,0a3.2,3.2 0 1,0 -6.4,0M243.3,801.0a3.2,3.2 0 1,0 6.4,0a3.2,3.2 0 1,0 -6.4,0M244.9,801.6a3.2,3.2 0 1,0 6.4,0a3.2,3.2 0 1,0 -6.4,0M246.2,802.6a3.2,3.2 0 1,0 6.4,0a3.2,3.2 0 1,0 -6.4,0M248.1,802.6a3.2,3.2 0 1,0 6.4,0a3.2,3.2 0 1,0 -6.4,0M248.8,803.7a3.2,3.2 0 1,0 6.4,0a3.2,3.2 0 1,0 -6.4,0M250.6,803.4a3.2,3.2 0 1,0 6.4,0a3.2,3.2 0 1,0 -6.4,0M252.0,804.6a3.2,3.2 0 1,0 6.4,0a3.2,3.2 0 1,0 -6.4,0M253.8,804.7a3.2,3.2 0 1,0 6.4,0a3.2,3.2 0 1,0 -6.4,0M255.4,805.1a3.2,3.2 0 1,0 6.4,0a3.2,3.2 0 1,0 -6.4,0M256.8,806.4a3.2,3.2 0 1,0 6.4,0a3.2,3.2 0 1,0 -6.4,0M258.7,806.0a3.2,3.2 0 1,0 6.4,0a3.2,3.2 0 1,0 -6.4,0M260.2,807.0a3.2,3.2 0 1,0 6.4,0a3.2,3.2 0 1,0 -6.4,0M261.7,807.8a3.2,3.2 0 1,0 6.4,0a3.2,3.2 0 1,0 -6.4,0M263.5,807.6a3.2,3.2 0 1,0 6.4,0a3.2,3.2 0 1,0 -6.4,0M265.2,808.1a3.2,3.2 0 1,0 6.4,0a3.2,3.2 0 1,0 -6.4,0M266.6,809.4a3.2,3.2 0 1,0 6.4,0a3.2,3.2 0 1,0 -6.4,0M268.3,809.4a3.2,3.2 0 1,0 6.4,0a3.2,3.2 0 1,0 -6.4,0M269.9,810.2a3.2,3.2 0 1,0 6.4,0a3.2,3.2 0 1,0 -6.4,0M271.7,809.9a3.2,3.2 0 1,0 6.4,0a3.2,3.2 0 1,0 -6.4,0M273.2,810.8a3.2,3.2 0 1,0 6.4,0a3.2,3.2 0 1,0 -6.4,0M274.9,811.1a3.2,3.2 0 1,0 6.4,0a3.2,3.2 0 1,0 -6.4,0M276.4,812.1a3.2,3.2 0 1,0 6.4,0a3.2,3.2 0 1,0 -6.4,0M278.0,811.9a3.2,3.2 0 1,0 6.4,0a3.2,3.2 0 1,0 -6.4,0M279.3,813.3a3.2,3.2 0 1,0 6.4,0a3.2,3.2 0 1,0 -6.4,0M281.2,812.6a3.2,3.2 0 1,0 6.4,0a3.2,3.2 0 1,0 -6.4,0M282.7,813.8a3.2,3.2 0 1,0 6.4,0a3.2,3.2 0 1,0 -6.4,0M284.5,813.4a3.2,3.2 0 1,0 6.4,0a3.2,3.2 0 1,0 -6.4,0M286.1,814.0a3.2,3.2 0 1,0 6.4,0a3.2,3.2 0 1,0 -6.4,0M287.6,815.1a3.2,3.2 0 1,0 6.4,0a3.2,3.2 0 1,0 -6.4,0M289.4,814.7a3.2,3.2 0 1,0 6.4,0a3.2,3.2 0 1,0 -6.4,0M291.0,815.1a3.2,3.2 0 1,0 6.4,0a3.2,3.2 0 1,0 -6.4,0M292.8,816.2a3.2,3.2 0 1,0 6.4,0a3.2,3.2 0 1,0 -6.4,0M294.5,816.4a3.2,3.2 0 1,0 6.4,0a3.2,3.2 0 1,0 -6.4,0M296.3,816.6a3.2,3.2 0 1,0 6.4,0a3.2,3.2 0 1,0 -6.4,0M297.5,818.3a3.2,3.2 0 1,0 6.4,0a3.2,3.2 0 1,0 -6.4,0M299.5,817.9a3.2,3.2 0 1,0 6.4,0a3.2,3.2 0 1,0 -6.4,0M301.2,818.4a3.2,3.2 0 1,0 6.4,0a3.2,3.2 0 1,0 -6.4,0M302.7,819.3a3.2,3.2 0 1,0 6.4,0a3.2,3.2 0 1,0 -6.4,0M304.2,820.2a3.2,3.2 0 1,0 6.4,0a3.2,3.2 0 1,0 -6.4,0M305.8,820.9a3.2,3.2 0 1,0 6.4,0a3.2,3.2 0 1,0 -6.4,0M307.1,820.6a3.2,3.2 0 1,0 6.4,0a3.2,3.2 0 1,0 -6.4,0M308.7,821.2a3.2,3.2 0 1,0 6.4,0a3.2,3.2 0 1,0 -6.4,0M310.4,821.2a3.2,3.2 0 1,0 6.4,0a3.2,3.2 0 1,0 -6.4,0M311.9,822.0a3.2,3.2 0 1,0 6.4,0a3.2,3.2 0 1,0 -6.4,0M313.5,822.7a3.2,3.2 0 1,0 6.4,0a3.2,3.2 0 1,0 -6.4,0M315.1,823.0a3.2,3.2 0 1,0 6.4,0a3.2,3.2 0 1,0 -6.4,0M316.7,823.5a3.2,3.2 0 1,0 6.4,0a3.2,3.2 0 1,0 -6.4,0M318.3,823.7a3.2,3.2 0 1,0 6.4,0a3.2,3.2 0 1,0 -6.4,0M319.9,824.2a3.2,3.2 0 1,0 6.4,0a3.2,3.2 0 1,0 -6.4,0M321.5,824.3a3.2,3.2 0 1,0 6.4,0a3.2,3.2 0 1,0 -6.4,0M323.2,824.3a3.2,3.2 0 1,0 6.4,0a3.2,3.2 0 1,0 -6.4,0M324.9,824.3a3.2,3.2 0 1,0 6.4,0a3.2,3.2 0 1,0 -6.4,0M326.4,825.1a3.2,3.2 0 1,0 6.4,0a3.2,3.2 0 1,0 -6.4,0M328.1,825.0a3.2,3.2 0 1,0 6.4,0a3.2,3.2 0 1,0 -6.4,0M329.8,825.0a3.2,3.2 0 1,0 6.4,0a3.2,3.2 0 1,0 -6.4,0M331.3,825.7a3.2,3.2 0 1,0 6.4,0a3.2,3.2 0 1,0 -6.4,0M332.8,826.5a3.2,3.2 0 1,0 6.4,0a3.2,3.2 0 1,0 -6.4,0M334.6,825.9a3.2,3.2 0 1,0 6.4,0a3.2,3.2 0 1,0 -6.4,0M336.0,826.7a3.2,3.2 0 1,0 6.4,0a3.2,3.2 0 1,0 -6.4,0M337.6,826.7a3.2,3.2 0 1,0 6.4,0a3.2,3.2 0 1,0 -6.4,0M339.2,827.0a3.2,3.2 0 1,0 6.4,0a3.2,3.2 0 1,0 -6.4,0M340.9,826.8a3.2,3.2 0 1,0 6.4,0a3.2,3.2 0 1,0 -6.4,0M342.4,827.9a3.2,3.2 0 1,0 6.4,0a3.2,3.2 0 1,0 -6.4,0M344.1,827.3a3.2,3.2 0 1,0 6.4,0a3.2,3.2 0 1,0 -6.4,0M345.7,827.9a3.2,3.2 0 1,0 6.4,0a3.2,3.2 0 1,0 -6.4,0M347.3,827.8a3.2,3.2 0 1,0 6.4,0a3.2,3.2 0 1,0 -6.4,0M349.0,827.6a3.2,3.2 0 1,0 6.4,0a3.2,3.2 0 1,0 -6.4,0M350.4,828.4a3.2,3.2 0 1,0 6.4,0a3.2,3.2 0 1,0 -6.4,0M352.1,828.0a3.2,3.2 0 1,0 6.4,0a3.2,3.2 0 1,0 -6.4,0M353.8,828.0a3.2,3.2 0 1,0 6.4,0a3.2,3.2 0 1,0 -6.4,0M355.4,828.1a3.2,3.2 0 1,0 6.4,0a3.2,3.2 0 1,0 -6.4,0M357.2,828.4a3.2,3.2 0 1,0 6.4,0a3.2,3.2 0 1,0 -6.4,0M358.8,828.5a3.2,3.2 0 1,0 6.4,0a3.2,3.2 0 1,0 -6.4,0M360.4,829.3a3.2,3.2 0 1,0 6.4,0a3.2,3.2 0 1,0 -6.4,0M362.1,829.3a3.2,3.2 0 1,0 6.4,0a3.2,3.2 0 1,0 -6.4,0M363.7,830.1a3.2,3.2 0 1,0 6.4,0a3.2,3.2 0 1,0 -6.4,0M365.4,830.2a3.2,3.2 0 1,0 6.4,0a3.2,3.2 0 1,0 -6.4,0M367.1,830.4a3.2,3.2 0 1,0 6.4,0a3.2,3.2 0 1,0 -6.4,0M368.8,829.7a3.2,3.2 0 1,0 6.4,0a3.2,3.2 0 1,0 -6.4,0M370.5,830.1a3.2,3.2 0 1,0 6.4,0a3.2,3.2 0 1,0 -6.4,0M371.9,830.0a3.2,3.2 0 1,0 6.4,0a3.2,3.2 0 1,0 -6.4,0M373.6,830.5a3.2,3.2 0 1,0 6.4,0a3.2,3.2 0 1,0 -6.4,0M375.3,830.6a3.2,3.2 0 1,0 6.4,0a3.2,3.2 0 1,0 -6.4,0M376.9,830.9a3.2,3.2 0 1,0 6.4,0a3.2,3.2 0 1,0 -6.4,0M378.6,830.8a3.2,3.2 0 1,0 6.4,0a3.2,3.2 0 1,0 -6.4,0M380.3,830.3a3.2,3.2 0 1,0 6.4,0a3.2,3.2 0 1,0 -6.4,0M381.9,830.6a3.2,3.2 0 1,0 6.4,0a3.2,3.2 0 1,0 -6.4,0M383.6,830.8a3.2,3.2 0 1,0 6.4,0a3.2,3.2 0 1,0 -6.4,0M385.3,830.2a3.2,3.2 0 1,0 6.4,0a3.2,3.2 0 1,0 -6.4,0M387.0,830.3a3.2,3.2 0 1,0 6.4,0a3.2,3.2 0 1,0 -6.4,0M388.6,830.9a3.2,3.2 0 1,0 6.4,0a3.2,3.2 0 1,0 -6.4,0M390.2,830.6a3.2,3.2 0 1,0 6.4,0a3.2,3.2 0 1,0 -6.4,0M391.8,831.4a3.2,3.2 0 1,0 6.4,0a3.2,3.2 0 1,0 -6.4,0M393.5,830.9a3.2,3.2 0 1,0 6.4,0a3.2,3.2 0 1,0 -6.4,0M395.1,830.8a3.2,3.2 0 1,0 6.4,0a3.2,3.2 0 1,0 -6.4,0M396.7,831.0a3.2,3.2 0 1,0 6.4,0a3.2,3.2 0 1,0 -6.4,0M398.3,831.1a3.2,3.2 0 1,0 6.4,0a3.2,3.2 0 1,0 -6.4,0M399.9,831.2a3.2,3.2 0 1,0 6.4,0a3.2,3.2 0 1,0 -6.4,0M401.6,831.6a3.2,3.2 0 1,0 6.4,0a3.2,3.2 0 1,0 -6.4,0M403.2,831.6a3.2,3.2 0 1,0 6.4,0a3.2,3.2 0 1,0 -6.4,0M404.8,831.5a3.2,3.2 0 1,0 6.4,0a3.2,3.2 0 1,0 -6.4,0M406.4,832.0a3.2,3.2 0 1,0 6.4,0a3.2,3.2 0 1,0 -6.4,0M408.1,831.6a3.2,3.2 0 1,0 6.4,0a3.2,3.2 0 1,0 -6.4,0M409.6,832.5a3.2,3.2 0 1,0 6.4,0a3.2,3.2 0 1,0 -6.4,0M411.3,832.6a3.2,3.2 0 1,0 6.4,0a3.2,3.2 0 1,0 -6.4,0M412.9,832.4a3.2,3.2 0 1,0 6.4,0a3.2,3.2 0 1,0 -6.4,0M414.5,832.1a3.2,3.2 0 1,0 6.4,0a3.2,3.2 0 1,0 -6.4,0M416.2,832.3a3.2,3.2 0 1,0 6.4,0a3.2,3.2 0 1,0 -6.4,0M417.8,832.5a3.2,3.2 0 1,0 6.4,0a3.2,3.2 0 1,0 -6.4,0M419.4,831.9a3.2,3.2 0 1,0 6.4,0a3.2,3.2 0 1,0 -6.4,0M421.0,832.5a3.2,3.2 0 1,0 6.4,0a3.2,3.2 0 1,0 -6.4,0M422.7,832.7a3.2,3.2 0 1,0 6.4,0a3.2,3.2 0 1,0 -6.4,0M424.3,832.4a3.2,3.2 0 1,0 6.4,0a3.2,3.2 0 1,0 -6.4,0M425.9,832.4a3.2,3.2 0 1,0 6.4,0a3.2,3.2 0 1,0 -6.4,0M427.5,833.3a3.2,3.2 0 1,0 6.4,0a3.2,3.2 0 1,0 -6.4,0M429.2,832.9a3.2,3.2 0 1,0 6.4,0a3.2,3.2 0 1,0 -6.4,0M430.7,833.1a3.2,3.2 0 1,0 6.4,0a3.2,3.2 0 1,0 -6.4,0M432.5,833.7a3.2,3.2 0 1,0 6.4,0a3.2,3.2 0 1,0 -6.4,0M434.2,833.4a3.2,3.2 0 1,0 6.4,0a3.2,3.2 0 1,0 -6.4,0M436.0,833.1a3.2,3.2 0 1,0 6.4,0a3.2,3.2 0 1,0 -6.4,0M437.7,834.0a3.2,3.2 0 1,0 6.4,0a3.2,3.2 0 1,0 -6.4,0M439.5,833.3a3.2,3.2 0 1,0 6.4,0a3.2,3.2 0 1,0 -6.4,0M441.3,832.9a3.2,3.2 0 1,0 6.4,0a3.2,3.2 0 1,0 -6.4,0M443.0,833.8a3.2,3.2 0 1,0 6.4,0a3.2,3.2 0 1,0 -6.4,0M444.7,833.2a3.2,3.2 0 1,0 6.4,0a3.2,3.2 0 1,0 -6.4,0M446.5,833.5a3.2,3.2 0 1,0 6.4,0a3.2,3.2 0 1,0 -6.4,0M445.9,835.3a3.2,3.2 0 1,0 6.4,0a3.2,3.2 0 1,0 -6.4,0M446.8,833.7a3.2,3.2 0 1,0 6.4,0a3.2,3.2 0 1,0 -6.4,0M449.9,830.3a3.2,3.2 0 1,0 6.4,0a3.2,3.2 0 1,0 -6.4,0M451.9,830.7a3.2,3.2 0 1,0 6.4,0a3.2,3.2 0 1,0 -6.4,0M453.8,830.4a3.2,3.2 0 1,0 6.4,0a3.2,3.2 0 1,0 -6.4,0M455.7,830.3a3.2,3.2 0 1,0 6.4,0a3.2,3.2 0 1,0 -6.4,0M457.5,829.8a3.2,3.2 0 1,0 6.4,0a3.2,3.2 0 1,0 -6.4,0M459.9,830.0a3.2,3.2 0 1,0 6.4,0a3.2,3.2 0 1,0 -6.4,0M461.5,829.4a3.2,3.2 0 1,0 6.4,0a3.2,3.2 0 1,0 -6.4,0M463.2,829.8a3.2,3.2 0 1,0 6.4,0a3.2,3.2 0 1,0 -6.4,0M464.8,829.9a3.2,3.2 0 1,0 6.4,0a3.2,3.2 0 1,0 -6.4,0M466.4,830.6a3.2,3.2 0 1,0 6.4,0a3.2,3.2 0 1,0 -6.4,0M468.0,829.7a3.2,3.2 0 1,0 6.4,0a3.2,3.2 0 1,0 -6.4,0M469.6,830.5a3.2,3.2 0 1,0 6.4,0a3.2,3.2 0 1,0 -6.4,0M471.3,829.9a3.2,3.2 0 1,0 6.4,0a3.2,3.2 0 1,0 -6.4,0M472.9,830.4a3.2,3.2 0 1,0 6.4,0a3.2,3.2 0 1,0 -6.4,0M474.9,830.3a3.2,3.2 0 1,0 6.4,0a3.2,3.2 0 1,0 -6.4,0M476.7,830.7a3.2,3.2 0 1,0 6.4,0a3.2,3.2 0 1,0 -6.4,0M478.5,831.3a3.2,3.2 0 1,0 6.4,0a3.2,3.2 0 1,0 -6.4,0M480.4,831.1a3.2,3.2 0 1,0 6.4,0a3.2,3.2 0 1,0 -6.4,0M481.8,831.0a3.2,3.2 0 1,0 6.4,0a3.2,3.2 0 1,0 -6.4,0M483.4,831.0a3.2,3.2 0 1,0 6.4,0a3.2,3.2 0 1,0 -6.4,0M485.0,831.0a3.2,3.2 0 1,0 6.4,0a3.2,3.2 0 1,0 -6.4,0M486.7,831.9a3.2,3.2 0 1,0 6.4,0a3.2,3.2 0 1,0 -6.4,0M488.3,831.7a3.2,3.2 0 1,0 6.4,0a3.2,3.2 0 1,0 -6.4,0M489.9,832.1a3.2,3.2 0 1,0 6.4,0a3.2,3.2 0 1,0 -6.4,0M491.5,831.7a3.2,3.2 0 1,0 6.4,0a3.2,3.2 0 1,0 -6.4,0M493.2,830.9a3.2,3.2 0 1,0 6.4,0a3.2,3.2 0 1,0 -6.4,0M494.8,831.7a3.2,3.2 0 1,0 6.4,0a3.2,3.2 0 1,0 -6.4,0M496.5,831.8a3.2,3.2 0 1,0 6.4,0a3.2,3.2 0 1,0 -6.4,0M498.1,831.8a3.2,3.2 0 1,0 6.4,0a3.2,3.2 0 1,0 -6.4,0M499.7,831.6a3.2,3.2 0 1,0 6.4,0a3.2,3.2 0 1,0 -6.4,0M501.4,831.5a3.2,3.2 0 1,0 6.4,0a3.2,3.2 0 1,0 -6.4,0M503.0,831.6a3.2,3.2 0 1,0 6.4,0a3.2,3.2 0 1,0 -6.4,0M504.6,832.1a3.2,3.2 0 1,0 6.4,0a3.2,3.2 0 1,0 -6.4,0M506.2,831.5a3.2,3.2 0 1,0 6.4,0a3.2,3.2 0 1,0 -6.4,0M507.8,831.8a3.2,3.2 0 1,0 6.4,0a3.2,3.2 0 1,0 -6.4,0M509.5,831.8a3.2,3.2 0 1,0 6.4,0a3.2,3.2 0 1,0 -6.4,0M511.2,832.5a3.2,3.2 0 1,0 6.4,0a3.2,3.2 0 1,0 -6.4,0M512.8,832.4a3.2,3.2 0 1,0 6.4,0a3.2,3.2 0 1,0 -6.4,0M514.4,832.7a3.2,3.2 0 1,0 6.4,0a3.2,3.2 0 1,0 -6.4,0M516.1,832.7a3.2,3.2 0 1,0 6.4,0a3.2,3.2 0 1,0 -6.4,0M517.7,832.2a3.2,3.2 0 1,0 6.4,0a3.2,3.2 0 1,0 -6.4,0M519.4,832.2a3.2,3.2 0 1,0 6.4,0a3.2,3.2 0 1,0 -6.4,0M521.0,832.6a3.2,3.2 0 1,0 6.4,0a3.2,3.2 0 1,0 -6.4,0M522.6,832.5a3.2,3.2 0 1,0 6.4,0a3.2,3.2 0 1,0 -6.4,0M524.2,832.8a3.2,3.2 0 1,0 6.4,0a3.2,3.2 0 1,0 -6.4,0M525.6,833.2a3.2,3.2 0 1,0 6.4,0a3.2,3.2 0 1,0 -6.4,0M527.2,833.5a3.2,3.2 0 1,0 6.4,0a3.2,3.2 0 1,0 -6.4,0M528.8,833.1a3.2,3.2 0 1,0 6.4,0a3.2,3.2 0 1,0 -6.4,0M530.5,833.4a3.2,3.2 0 1,0 6.4,0a3.2,3.2 0 1,0 -6.4,0M532.1,832.5a3.2,3.2 0 1,0 6.4,0a3.2,3.2 0 1,0 -6.4,0M533.7,832.8a3.2,3.2 0 1,0 6.4,0a3.2,3.2 0 1,0 -6.4,0M535.3,833.6a3.2,3.2 0 1,0 6.4,0a3.2,3.2 0 1,0 -6.4,0M537.0,832.6a3.2,3.2 0 1,0 6.4,0a3.2,3.2 0 1,0 -6.4,0M538.6,832.9a3.2,3.2 0 1,0 6.4,0a3.2,3.2 0 1,0 -6.4,0M540.2,832.5a3.2,3.2 0 1,0 6.4,0a3.2,3.2 0 1,0 -6.4,0M541.8,832.5a3.2,3.2 0 1,0 6.4,0a3.2,3.2 0 1,0 -6.4,0M543.4,833.5a3.2,3.2 0 1,0 6.4,0a3.2,3.2 0 1,0 -6.4,0M545.1,833.6a3.2,3.2 0 1,0 6.4,0a3.2,3.2 0 1,0 -6.4,0M546.7,833.2a3.2,3.2 0 1,0 6.4,0a3.2,3.2 0 1,0 -6.4,0M548.3,832.6a3.2,3.2 0 1,0 6.4,0a3.2,3.2 0 1,0 -6.4,0M549.9,832.8a3.2,3.2 0 1,0 6.4,0a3.2,3.2 0 1,0 -6.4,0M551.6,832.7a3.2,3.2 0 1,0 6.4,0a3.2,3.2 0 1,0 -6.4,0M553.2,833.2a3.2,3.2 0 1,0 6.4,0a3.2,3.2 0 1,0 -6.4,0M554.8,833.2a3.2,3.2 0 1,0 6.4,0a3.2,3.2 0 1,0 -6.4,0M556.5,832.9a3.2,3.2 0 1,0 6.4,0a3.2,3.2 0 1,0 -6.4,0M558.2,833.0a3.2,3.2 0 1,0 6.4,0a3.2,3.2 0 1,0 -6.4,0M559.9,832.5a3.2,3.2 0 1,0 6.4,0a3.2,3.2 0 1,0 -6.4,0M561.6,833.0a3.2,3.2 0 1,0 6.4,0a3.2,3.2 0 1,0 -6.4,0M563.3,833.5a3.2,3.2 0 1,0 6.4,0a3.2,3.2 0 1,0 -6.4,0M565.0,833.3a3.2,3.2 0 1,0 6.4,0a3.2,3.2 0 1,0 -6.4,0M566.6,832.5a3.2,3.2 0 1,0 6.4,0a3.2,3.2 0 1,0 -6.4,0M568.3,833.0a3.2,3.2 0 1,0 6.4,0a3.2,3.2 0 1,0 -6.4,0M570.0,833.3a3.2,3.2 0 1,0 6.4,0a3.2,3.2 0 1,0 -6.4,0M571.7,832.7a3.2,3.2 0 1,0 6.4,0a3.2,3.2 0 1,0 -6.4,0M573.4,833.5a3.2,3.2 0 1,0 6.4,0a3.2,3.2 0 1,0 -6.4,0M575.1,833.0a3.2,3.2 0 1,0 6.4,0a3.2,3.2 0 1,0 -6.4,0M576.9,833.2a3.2,3.2 0 1,0 6.4,0a3.2,3.2 0 1,0 -6.4,0M578.5,832.9a3.2,3.2 0 1,0 6.4,0a3.2,3.2 0 1,0 -6.4,0M580.1,833.7a3.2,3.2 0 1,0 6.4,0a3.2,3.2 0 1,0 -6.4,0M581.7,833.5a3.2,3.2 0 1,0 6.4,0a3.2,3.2 0 1,0 -6.4,0M583.4,833.3a3.2,3.2 0 1,0 6.4,0a3.2,3.2 0 1,0 -6.4,0M585.0,832.8a3.2,3.2 0 1,0 6.4,0a3.2,3.2 0 1,0 -6.4,0M586.6,833.2a3.2,3.2 0 1,0 6.4,0a3.2,3.2 0 1,0 -6.4,0M588.3,832.7a3.2,3.2 0 1,0 6.4,0a3.2,3.2 0 1,0 -6.4,0M589.9,833.5a3.2,3.2 0 1,0 6.4,0a3.2,3.2 0 1,0 -6.4,0M591.3,833.9a3.2,3.2 0 1,0 6.4,0a3.2,3.2 0 1,0 -6.4,0M592.9,833.0a3.2,3.2 0 1,0 6.4,0a3.2,3.2 0 1,0 -6.4,0M594.6,833.3a3.2,3.2 0 1,0 6.4,0a3.2,3.2 0 1,0 -6.4,0M596.2,833.2a3.2,3.2 0 1,0 6.4,0a3.2,3.2 0 1,0 -6.4,0M597.8,833.1a3.2,3.2 0 1,0 6.4,0a3.2,3.2 0 1,0 -6.4,0M599.4,833.4a3.2,3.2 0 1,0 6.4,0a3.2,3.2 0 1,0 -6.4,0M601.1,833.7a3.2,3.2 0 1,0 6.4,0a3.2,3.2 0 1,0 -6.4,0M602.7,833.3a3.2,3.2 0 1,0 6.4,0a3.2,3.2 0 1,0 -6.4,0M604.3,833.0a3.2,3.2 0 1,0 6.4,0a3.2,3.2 0 1,0 -6.4,0M605.9,833.6a3.2,3.2 0 1,0 6.4,0a3.2,3.2 0 1,0 -6.4,0M607.6,832.8a3.2,3.2 0 1,0 6.4,0a3.2,3.2 0 1,0 -6.4,0M609.2,833.2a3.2,3.2 0 1,0 6.4,0a3.2,3.2 0 1,0 -6.4,0M610.8,833.1a3.2,3.2 0 1,0 6.4,0a3.2,3.2 0 1,0 -6.4,0M612.4,833.2a3.2,3.2 0 1,0 6.4,0a3.2,3.2 0 1,0 -6.4,0M614.1,833.3a3.2,3.2 0 1,0 6.4,0a3.2,3.2 0 1,0 -6.4,0M615.7,832.5a3.2,3.2 0 1,0 6.4,0a3.2,3.2 0 1,0 -6.4,0M617.3,832.9a3.2,3.2 0 1,0 6.4,0a3.2,3.2 0 1,0 -6.4,0M618.9,832.6a3.2,3.2 0 1,0 6.4,0a3.2,3.2 0 1,0 -6.4,0M620.5,832.9a3.2,3.2 0 1,0 6.4,0a3.2,3.2 0 1,0 -6.4,0M622.1,833.2a3.2,3.2 0 1,0 6.4,0a3.2,3.2 0 1,0 -6.4,0M623.7,832.8a3.2,3.2 0 1,0 6.4,0a3.2,3.2 0 1,0 -6.4,0M625.3,831.9a3.2,3.2 0 1,0 6.4,0a3.2,3.2 0 1,0 -6.4,0M627.0,832.4a3.2,3.2 0 1,0 6.4,0a3.2,3.2 0 1,0 -6.4,0M628.6,832.7a3.2,3.2 0 1,0 6.4,0a3.2,3.2 0 1,0 -6.4,0M630.2,832.8a3.2,3.2 0 1,0 6.4,0a3.2,3.2 0 1,0 -6.4,0M631.9,832.5a3.2,3.2 0 1,0 6.4,0a3.2,3.2 0 1,0 -6.4,0M633.5,832.6a3.2,3.2 0 1,0 6.4,0a3.2,3.2 0 1,0 -6.4,0M635.0,831.6a3.2,3.2 0 1,0 6.4,0a3.2,3.2 0 1,0 -6.4,0M636.7,832.7a3.2,3.2 0 1,0 6.4,0a3.2,3.2 0 1,0 -6.4,0M638.3,832.3a3.2,3.2 0 1,0 6.4,0a3.2,3.2 0 1,0 -6.4,0M639.9,832.1a3.2,3.2 0 1,0 6.4,0a3.2,3.2 0 1,0 -6.4,0M641.6,832.4a3.2,3.2 0 1,0 6.4,0a3.2,3.2 0 1,0 -6.4,0M643.2,832.3a3.2,3.2 0 1,0 6.4,0a3.2,3.2 0 1,0 -6.4,0M644.8,831.3a3.2,3.2 0 1,0 6.4,0a3.2,3.2 0 1,0 -6.4,0M646.4,832.0a3.2,3.2 0 1,0 6.4,0a3.2,3.2 0 1,0 -6.4,0M648.0,831.9a3.2,3.2 0 1,0 6.4,0a3.2,3.2 0 1,0 -6.4,0M649.7,831.1a3.2,3.2 0 1,0 6.4,0a3.2,3.2 0 1,0 -6.4,0M651.4,831.7a3.2,3.2 0 1,0 6.4,0a3.2,3.2 0 1,0 -6.4,0M653.0,831.5a3.2,3.2 0 1,0 6.4,0a3.2,3.2 0 1,0 -6.4,0M654.6,831.0a3.2,3.2 0 1,0 6.4,0a3.2,3.2 0 1,0 -6.4,0M656.3,831.7a3.2,3.2 0 1,0 6.4,0a3.2,3.2 0 1,0 -6.4,0M657.9,830.8a3.2,3.2 0 1,0 6.4,0a3.2,3.2 0 1,0 -6.4,0M659.6,831.3a3.2,3.2 0 1,0 6.4,0a3.2,3.2 0 1,0 -6.4,0M661.2,831.1a3.2,3.2 0 1,0 6.4,0a3.2,3.2 0 1,0 -6.4,0M662.8,830.8a3.2,3.2 0 1,0 6.4,0a3.2,3.2 0 1,0 -6.4,0M664.5,831.1a3.2,3.2 0 1,0 6.4,0a3.2,3.2 0 1,0 -6.4,0M666.1,831.0a3.2,3.2 0 1,0 6.4,0a3.2,3.2 0 1,0 -6.4,0M667.8,830.6a3.2,3.2 0 1,0 6.4,0a3.2,3.2 0 1,0 -6.4,0M669.4,831.5a3.2,3.2 0 1,0 6.4,0a3.2,3.2 0 1,0 -6.4,0M671.0,830.3a3.2,3.2 0 1,0 6.4,0a3.2,3.2 0 1,0 -6.4,0" fill="#0000ff"/>
<polygon points="134.8,698.0 141.1,698.0 141.5,710.0 142.8,721.5 147.5,726.2 150.0,732.6 153.5,737.0 156.1,740.1 159.6,742.7 163.1,744.5 166.6,748.4 170.1,753.6 175.4,758.9 180.7,764.2 185.0,768.5 189.4,771.6 193.8,774.7 198.2,779.0 202.6,781.7 206.9,783.4 211.7,786.3 221.9,789.2 229.2,791.4 236.5,795.0 243.8,798.0 258.4,803.1 273.0,806.4 287.6,810.4 295.0,814.0 302.3,815.4 309.6,816.2 316.9,819.1 324.2,821.3 331.5,823.5 338.8,825.0 346.1,826.4 353.4,828.3 360.7,830.8 368.0,832.7 375.3,834.4 382.6,836.2 390.0,838.5 404.6,842.1 419.2,845.8 433.8,848.7 448.4,851.6 463.0,853.8 477.6,856.4 485.0,856.6 499.6,858.8 514.2,861.0 528.8,863.9 543.4,865.4 558.0,866.8 572.6,869.0 580.0,869.0 594.6,871.2 609.2,873.4 623.8,875.6 638.4,877.8 653.0,879.7 676.0,881.0 676.0,888.9 653.0,886.5 638.4,885.1 623.8,882.9 609.2,881.0 594.6,879.2 580.0,877.0 572.6,876.3 558.0,874.1 543.4,873.4 528.8,871.2 514.2,868.3 499.6,866.1 485.0,863.9 477.6,862.6 463.0,860.8 448.4,858.2 433.8,855.3 419.2,852.3 404.6,849.1 390.0,846.2 382.6,844.6 375.3,842.9 368.0,841.0 360.7,838.8 353.4,836.6 346.1,834.4 338.8,833.7 331.5,830.0 324.2,827.8 316.9,829.3 312.5,824.2 306.7,824.9 302.3,823.5 295.0,822.0 287.6,818.4 280.3,816.9 273.0,816.2 265.7,814.0 258.4,815.5 251.1,810.4 243.8,806.7 236.5,804.5 229.2,802.3 221.9,798.0 214.6,795.0 210.2,797.2 204.4,795.0 200.0,792.8 193.8,790.0 192.0,787.8 189.4,783.4 184.2,783.0 180.7,779.9 177.2,777.7 173.6,774.7 171.9,772.0 168.4,768.5 165.8,762.4 163.1,758.9 159.6,756.3 156.1,755.0 152.6,751.9 150.0,746.6 146.4,737.9 141.7,735.0 136.4,729.7 134.8,725.0 134.8,698.0" fill="#ff0000"/>
<circle cx="138" cy="698" r="3.2" fill="#ff0000"/>
<path d="M134.4,698.1a3.2,3.2 0 1,0 6.4,0a3.2,3.2 0 1,0 -6.4,0M134.8,699.8a3.2,3.2 0 1,0 6.4,0a3.2,3.2 0 1,0 -6.4,0M134.7,701.5a3.2,3.2 0 1,0 6.4,0a3.2,3.2 0 1,0 -6.4,0M135.0,703.2a3.2,3.2 0 1,0 6.4,0a3.2,3.2 0 1,0 -6.4,0M135.1,705.0a3.2,3.2 0 1,0 6.4,0a3.2,3.2 0 1,0 -6.4,0M134.5,706.7a3.2,3.2 0 1,0 6.4,0a3.2,3.2 0 1,0 -6.4,0M134.5,708.4a3.2,3.2 0 1,0 6.4,0a3.2,3.2 0 1,0 -6.4,0M135.5,710.3a3.2,3.2 0 1,0 6.4,0a3.2,3.2 0 1,0 -6.4,0M135.0,712.0a3.2,3.2 0 1,0 6.4,0a3.2,3.2 0 1,0 -6.4,0M135.2,713.7a3.2,3.2 0 1,0 6.4,0a3.2,3.2 0 1,0 -6.4,0M136.3,715.2a3.2,3.2 0 1,0 6.4,0a3.2,3.2 0 1,0 -6.4,0M135.8,716.9a3.2,3.2 0 1,0 6.4,0a3.2,3.2 0 1,0 -6.4,0M136.5,718.5a3.2,3.2 0 1,0 6.4,0a3.2,3.2 0 1,0 -6.4,0M136.2,720.2a3.2,3.2 0 1,0 6.4,0a3.2,3.2 0 1,0 -6.4,0M137.5,723.6a3.2,3.2 0 1,0 6.4,0a3.2,3.2 0 1,0 -6.4,0M138.2,725.2a3.2,3.2 0 1,0 6.4,0a3.2,3.2 0 1,0 -6.4,0M139.8,726.0a3.2,3.2 0 1,0 6.4,0a3.2,3.2 0 1,0 -6.4,0M141.2,727.0a3.2,3.2 0 1,0 6.4,0a3.2,3.2 0 1,0 -6.4,0M141.3,727.4a3.2,3.2 0 1,0 6.4,0a3.2,3.2 0 1,0 -6.4,0M142.2,728.9a3.2,3.2 0 1,0 6.4,0a3.2,3.2 0 1,0 -6.4,0M142.8,730.5a3.2,3.2 0 1,0 6.4,0a3.2,3.2 0 1,0 -6.4,0M142.7,732.4a3.2,3.2 0 1,0 6.4,0a3.2,3.2 0 1,0 -6.4,0M144.5,734.4a3.2,3.2 0 1,0 6.4,0a3.2,3.2 0 1,0 -6.4,0M145.5,736.0a3.2,3.2 0 1,0 6.4,0a3.2,3.2 0 1,0 -6.4,0M146.4,737.7a3.2,3.2 0 1,0 6.4,0a3.2,3.2 0 1,0 -6.4,0M147.4,739.4a3.2,3.2 0 1,0 6.4,0a3.2,3.2 0 1,0 -6.4,0M149.5,740.3a3.2,3.2 0 1,0 6.4,0a3.2,3.2 0 1,0 -6.4,0M151.0,742.7a3.2,3.2 0 1,0 6.4,0a3.2,3.2 0 1,0 -6.4,0M152.9,743.8a3.2,3.2 0 1,0 6.4,0a3.2,3.2 0 1,0 -6.4,0M155.1,745.1a3.2,3.2 0 1,0 6.4,0a3.2,3.2 0 1,0 -6.4,0M156.8,746.2a3.2,3.2 0 1,0 6.4,0a3.2,3.2 0 1,0 -6.4,0M157.9,746.3a3.2,3.2 0 1,0 6.4,0a3.2,3.2 0 1,0 -6.4,0M158.6,748.0a3.2,3.2 0 1,0 6.4,0a3.2,3.2 0 1,0 -6.4,0M160.1,749.0a3.2,3.2 0 1,0 6.4,0a3.2,3.2 0 1,0 -6.4,0M160.7,750.2a3.2,3.2 0 1,0 6.4,0a3.2,3.2 0 1,0 -6.4,0M162.3,751.6a3.2,3.2 0 1,0 6.4,0a3.2,3.2 0 1,0 -6.4,0M163.5,753.4a3.2,3.2 0 1,0 6.4,0a3.2,3.2 0 1,0 -6.4,0M164.3,756.2a3.2,3.2 0 1,0 6.4,0a3.2,3.2 0 1,0 -6.4,0M165.7,757.5a3.2,3.2 0 1,0 6.4,0a3.2,3.2 0 1,0 -6.4,0M167.0,758.8a3.2,3.2 0 1,0 6.4,0a3.2,3.2 0 1,0 -6.4,0M169.0,759.4a3.2,3.2 0 1,0 6.4,0a3.2,3.2 0 1,0 -6.4,0M169.9,761.2a3.2,3.2 0 1,0 6.4,0a3.2,3.2 0 1,0 -6.4,0M171.4,762.4a3.2,3.2 0 1,0 6.4,0a3.2,3.2 0 1,0 -6.4,0M172.4,764.0a3.2,3.2 0 1,0 6.4,0a3.2,3.2 0 1,0 -6.4,0M173.9,765.1a3.2,3.2 0 1,0 6.4,0a3.2,3.2 0 1,0 -6.4,0M175.1,766.6a3.2,3.2 0 1,0 6.4,0a3.2,3.2 0 1,0 -6.4,0M176.5,768.0a3.2,3.2 0 1,0 6.4,0a3.2,3.2 0 1,0 -6.4,0M178.2,769.3a3.2,3.2 0 1,0 6.4,0a3.2,3.2 0 1,0 -6.4,0M180.0,771.0a3.2,3.2 0 1,0 6.4,0a3.2,3.2 0 1,0 -6.4,0M181.7,771.8a3.2,3.2 0 1,0 6.4,0a3.2,3.2 0 1,0 -6.4,0M183.0,773.0a3.2,3.2 0 1,0 6.4,0a3.2,3.2 0 1,0 -6.4,0M184.7,773.8a3.2,3.2 0 1,0 6.4,0a3.2,3.2 0 1,0 -6.4,0M186.1,774.9a3.2,3.2 0 1,0 6.4,0a3.2,3.2 0 1,0 -6.4,0M187.6,775.8a3.2,3.2 0 1,0 6.4,0a3.2,3.2 0 1,0 -6.4,0M188.5,776.8a3.2,3.2 0 1,0 6.4,0a3.2,3.2 0 1,0 -6.4,0M189.5,778.7a3.2,3.2 0 1,0 6.4,0a3.2,3.2 0 1,0 -6.4,0M191.6,779.5a3.2,3.2 0 1,0 6.4,0a3.2,3.2 0 1,0 -6.4,0M193.6,781.3a3.2,3.2 0 1,0 6.4,0a3.2,3.2 0 1,0 -6.4,0M195.0,782.2a3.2,3.2 0 1,0 6.4,0a3.2,3.2 0 1,0 -6.4,0M196.3,783.5a3.2,3.2 0 1,0 6.4,0a3.2,3.2 0 1,0 -6.4,0M198.3,784.4a3.2,3.2 0 1,0 6.4,0a3.2,3.2 0 1,0 -6.4,0M200.2,785.8a3.2,3.2 0 1,0 6.4,0a3.2,3.2 0 1,0 -6.4,0M202.3,785.8a3.2,3.2 0 1,0 6.4,0a3.2,3.2 0 1,0 -6.4,0M203.7,787.0a3.2,3.2 0 1,0 6.4,0a3.2,3.2 0 1,0 -6.4,0M205.1,788.3a3.2,3.2 0 1,0 6.4,0a3.2,3.2 0 1,0 -6.4,0M207.5,789.9a3.2,3.2 0 1,0 6.4,0a3.2,3.2 0 1,0 -6.4,0M209.4,789.5a3.2,3.2 0 1,0 6.4,0a3.2,3.2 0 1,0 -6.4,0M211.2,789.8a3.2,3.2 0 1,0 6.4,0a3.2,3.2 0 1,0 -6.4,0M212.6,791.3a3.2,3.2 0 1,0 6.4,0a3.2,3.2 0 1,0 -6.4,0M214.5,791.0a3.2,3.2 0 1,0 6.4,0a3.2,3.2 0 1,0 -6.4,0M216.1,791.9a3.2,3.2 0 1,0 6.4,0a3.2,3.2 0 1,0 -6.4,0M217.7,792.7a3.2,3.2 0 1,0 6.4,0a3.2,3.2 0 1,0 -6.4,0M219.5,793.1a3.2,3.2 0 1,0 6.4,0a3.2,3.2 0 1,0 -6.4,0M221.5,793.1a3.2,3.2 0 1,0 6.4,0a3.2,3.2 0 1,0 -6.4,0M223.4,793.5a3.2,3.2 0 1,0 6.4,0a3.2,3.2 0 1,0 -6.4,0M224.3,794.8a3.2,3.2 0 1,0 6.4,0a3.2,3.2 0 1,0 -6.4,0M226.1,794.9a3.2,3.2 0 1,0 6.4,0a3.2,3.2 0 1,0 -6.4,0M227.3,796.2a3.2,3.2 0 1,0 6.4,0a3.2,3.2 0 1,0 -6.4,0M229.1,796.2a3.2,3.2 0 1,0 6.4,0a3.2,3.2 0 1,0 -6.4,0M230.3,797.3a3.2,3.2 0 1,0 6.4,0a3.2,3.2 0 1,0 -6.4,0M232.3,797.5a3.2,3.2 0 1,0 6.4,0a3.2,3.2 0 1,0 -6.4,0M234.1,798.2a3.2,3.2 0 1,0 6.4,0a3.2,3.2 0 1,0 -6.4,0M235.7,799.5a3.2,3.2 0 1,0 6.4,0a3.2,3.2 0 1,0 -6.4,0M237.8,799.7a3.2,3.2 0 1,0 6.4,0a3.2,3.2 0 1,0 -6.4,0M239.5,801.2a3.2,3.2 0 1,0 6.4,0a3.2,3.2 0 1,0 -6.4,0M241.0,802.1a3.2,3.2 0 1,0 6.4,0a3.2,3.2 0 1,0 -6.4,0M242.8,802.0a3.2,3.2 0 1,0 6.4,0a3.2,3.2 0 1,0 -6.4,0M244.2,803.3a3.2,3.2 0 1,0 6.4,0a3.2,3.2 0 1,0 -6.4,0M245.9,803.6a3.2,3.2 0 1,0 6.4,0a3.2,3.2 0 1,0 -6.4,0M247.6,804.0a3.2,3.2 0 1,0 6.4,0a3.2,3.2 0 1,0 -6.4,0M249.3,804.3a3.2,3.2 0 1,0 6.4,0a3.2,3.2 0 1,0 -6.4,0M250.8,805.4a3.2,3.2 0 1,0 6.4,0a3.2,3.2 0 1,0 -6.4,0M252.3,806.1a3.2,3.2 0 1,0 6.4,0a3.2,3.2 0 1,0 -6.4,0M254.6,805.8a3.2,3.2 0 1,0 6.4,0a3.2,3.2 0 1,0 -6.4,0M256.1,806.8a3.2,3.2 0 1,0 6.4,0a3.2,3.2 0 1,0 -6.4,0M257.9,806.4a3.2,3.2 0 1,0 6.4,0a3.2,3.2 0 1,0 -6.4,0M259.5,806.9a3.2,3.2 0 1,0 6.4,0a3.2,3.2 0 1,0 -6.4,0M261.0,807.8a3.2,3.2 0 1,0 6.4,0a3.2,3.2 0 1,0 -6.4,0M262.6,808.1a3.2,3.2 0 1,0 6.4,0a3.2,3.2 0 1,0 -6.4,0M264.2,808.4a3.2,3.2 0 1,0 6.4,0a3.2,3.2 0 1,0 -6.4,0M265.9,808.6a3.2,3.2 0 1,0 6.4,0a3.2,3.2 0 1,0 -6.4,0M267.5,809.0a3.2,3.2 0 1,0 6.4,0a3.2,3.2 0 1,0 -6.4,0M269.0,809.4a3.2,3.2 0 1,0 6.4,0a3.2,3.2 0 1,0 -6.4,0M270.6,809.8a3.2,3.2 0 1,0 6.4,0a3.2,3.2 0 1,0 -6.4,0M272.3,809.9a3.2,3.2 0 1,0 6.4,0a3.2,3.2 0 1,0 -6.4,0M273.8,810.8a3.2,3.2 0 1,0 6.4,0a3.2,3.2 0 1,0 -6.4,0M275.4,811.3a3.2,3.2 0 1,0 6.4,0a3.2,3.2 0 1,0 -6.4,0M277.1,811.5a3.2,3.2 0 1,0 6.4,0a3.2,3.2 0 1,0 -6.4,0M278.6,812.5a3.2,3.2 0 1,0 6.4,0a3.2,3.2 0 1,0 -6.4,0M280.2,812.8a3.2,3.2 0 1,0 6.4,0a3.2,3.2 0 1,0 -6.4,0M282.1,812.5a3.2,3.2 0 1,0 6.4,0a3.2,3.2 0 1,0 -6.4,0M283.0,813.3a3.2,3.2 0 1,0 6.4,0a3.2,3.2 0 1,0 -6.4,0M284.5,813.9a3.2,3.2 0 1,0 6.4,0a3.2,3.2 0 1,0 -6.4,0M285.7,815.2a3.2,3.2 0 1,0 6.4,0a3.2,3.2 0 1,0 -6.4,0M287.4,815.5a3.2,3.2 0 1,0 6.4,0a3.2,3.2 0 1,0 -6.4,0M289.0,816.1a3.2,3.2 0 1,0 6.4,0a3.2,3.2 0 1,0 -6.4,0M291.1,817.7a3.2,3.2 0 1,0 6.4,0a3.2,3.2 0 1,0 -6.4,0M293.0,817.4a3.2,3.2 0 1,0 6.4,0a3.2,3.2 0 1,0 -6.4,0M294.9,817.7a3.2,3.2 0 1,0 6.4,0a3.2,3.2 0 1,0 -6.4,0M296.6,818.7a3.2,3.2 0 1,0 6.4,0a3.2,3.2 0 1,0 -6.4,0M298.8,818.4a3.2,3.2 0 1,0 6.4,0a3.2,3.2 0 1,0 -6.4,0M300.6,818.8a3.2,3.2 0 1,0 6.4,0a3.2,3.2 0 1,0 -6.4,0M302.4,818.8a3.2,3.2 0 1,0 6.4,0a3.2,3.2 0 1,0 -6.4,0M304.2,819.4a3.2,3.2 0 1,0 6.4,0a3.2,3.2 0 1,0 -6.4,0M305.3,818.9a3.2,3.2 0 1,0 6.4,0a3.2,3.2 0 1,0 -6.4,0M307.1,819.6a3.2,3.2 0 1,0 6.4,0a3.2,3.2 0 1,0 -6.4,0M308.7,821.2a3.2,3.2 0 1,0 6.4,0a3.2,3.2 0 1,0 -6.4,0M310.5,821.8a3.2,3.2 0 1,0 6.4,0a3.2,3.2 0 1,0 -6.4,0M312.8,822.0a3.2,3.2 0 1,0 6.4,0a3.2,3.2 0 1,0 -6.4,0M314.8,822.2a3.2,3.2 0 1,0 6.4,0a3.2,3.2 0 1,0 -6.4,0M316.3,823.5a3.2,3.2 0 1,0 6.4,0a3.2,3.2 0 1,0 -6.4,0M318.2,823.9a3.2,3.2 0 1,0 6.4,0a3.2,3.2 0 1,0 -6.4,0M320.1,824.3a3.2,3.2 0 1,0 6.4,0a3.2,3.2 0 1,0 -6.4,0M321.8,825.1a3.2,3.2 0 1,0 6.4,0a3.2,3.2 0 1,0 -6.4,0M323.7,825.6a3.2,3.2 0 1,0 6.4,0a3.2,3.2 0 1,0 -6.4,0M325.5,826.2a3.2,3.2 0 1,0 6.4,0a3.2,3.2 0 1,0 -6.4,0M327.6,826.8a3.2,3.2 0 1,0 6.4,0a3.2,3.2 0 1,0 -6.4,0M329.5,826.9a3.2,3.2 0 1,0 6.4,0a3.2,3.2 0 1,0 -6.4,0M331.3,827.6a3.2,3.2 0 1,0 6.4,0a3.2,3.2 0 1,0 -6.4,0M333.1,827.9a3.2,3.2 0 1,0 6.4,0a3.2,3.2 0 1,0 -6.4,0M335.1,827.8a3.2,3.2 0 1,0 6.4,0a3.2,3.2 0 1,0 -6.4,0M336.7,829.1a3.2,3.2 0 1,0 6.4,0a3.2,3.2 0 1,0 -6.4,0M338.7,828.8a3.2,3.2 0 1,0 6.4,0a3.2,3.2 0 1,0 -6.4,0M340.5,828.9a3.2,3.2 0 1,0 6.4,0a3.2,3.2 0 1,0 -6.4,0M342.0,829.7a3.2,3.2 0 1,0 6.4,0a3.2,3.2 0 1,0 -6.4,0M343.8,830.3a3.2,3.2 0 1,0 6.4,0a3.2,3.2 0 1,0 -6.4,0M345.8,830.1a3.2,3.2 0 1,0 6.4,0a3.2,3.2 0 1,0 -6.4,0M347.5,831.2a3.2,3.2 0 1,0 6.4,0a3.2,3.2 0 1,0 -6.4,0M349.0,831.7a3.2,3.2 0 1,0 6.4,0a3.2,3.2 0 1,0 -6.4,0M351.0,832.0a3.2,3.2 0 1,0 6.4,0a3.2,3.2 0 1,0 -6.4,0M352.9,832.4a3.2,3.2 0 1,0 6.4,0a3.2,3.2 0 1,0 -6.4,0M354.5,833.7a3.2,3.2 0 1,0 6.4,0a3.2,3.2 0 1,0 -6.4,0M356.6,834.1a3.2,3.2 0 1,0 6.4,0a3.2,3.2 0 1,0 -6.4,0M358.5,834.6a3.2,3.2 0 1,0 6.4,0a3.2,3.2 0 1,0 -6.4,0M360.4,834.5a3.2,3.2 0 1,0 6.4,0a3.2,3.2 0 1,0 -6.4,0M362.2,835.4a3.2,3.2 0 1,0 6.4,0a3.2,3.2 0 1,0 -6.4,0M364.2,835.4a3.2,3.2 0 1,0 6.4,0a3.2,3.2 0 1,0 -6.4,0M365.8,836.6a3.2,3.2 0 1,0 6.4,0a3.2,3.2 0 1,0 -6.4,0M367.7,836.9a3.2,3.2 0 1,0 6.4,0a3.2,3.2 0 1,0 -6.4,0M369.6,836.9a3.2,3.2 0 1,0 6.4,0a3.2,3.2 0 1,0 -6.4,0M371.4,837.1a3.2,3.2 0 1,0 6.4,0a3.2,3.2 0 1,0 -6.4,0M373.1,838.0a3.2,3.2 0 1,0 6.4,0a3.2,3.2 0 1,0 -6.4,0M374.9,838.7a3.2,3.2 0 1,0 6.4,0a3.2,3.2 0 1,0 -6.4,0M376.7,839.3a3.2,3.2 0 1,0 6.4,0a3.2,3.2 0 1,0 -6.4,0M378.5,839.2a3.2,3.2 0 1,0 6.4,0a3.2,3.2 0 1,0 -6.4,0M380.2,840.2a3.2,3.2 0 1,0 6.4,0a3.2,3.2 0 1,0 -6.4,0M382.3,840.1a3.2,3.2 0 1,0 6.4,0a3.2,3.2 0 1,0 -6.4,0M384.1,840.6a3.2,3.2 0 1,0 6.4,0a3.2,3.2 0 1,0 -6.4,0M385.9,842.0a3.2,3.2 0 1,0 6.4,0a3.2,3.2 0 1,0 -6.4,0M387.6,842.3a3.2,3.2 0 1,0 6.4,0a3.2,3.2 0 1,0 -6.4,0M389.4,842.0a3.2,3.2 0 1,0 6.4,0a3.2,3.2 0 1,0 -6.4,0M390.9,842.6a3.2,3.2 0 1,0 6.4,0a3.2,3.2 0 1,0 -6.4,0M392.6,842.9a3.2,3.2 0 1,0 6.4,0a3.2,3.2 0 1,0 -6.4,0M394.1,843.8a3.2,3.2 0 1,0 6.4,0a3.2,3.2 0 1,0 -6.4,0M395.7,844.4a3.2,3.2 0 1,0 6.4,0a3.2,3.2 0 1,0 -6.4,0M397.3,844.6a3.2,3.2 0 1,0 6.4,0a3.2,3.2 0 1,0 -6.4,0M399.1,844.5a3.2,3.2 0 1,0 6.4,0a3.2,3.2 0 1,0 -6.4,0M400.5,845.5a3.2,3.2 0 1,0 6.4,0a3.2,3.2 0 1,0 -6.4,0M402.2,845.8a3.2,3.2 0 1,0 6.4,0a3.2,3.2 0 1,0 -6.4,0M403.8,846.1a3.2,3.2 0 1,0 6.4,0a3.2,3.2 0 1,0 -6.4,0M405.5,846.5a3.2,3.2 0 1,0 6.4,0a3.2,3.2 0 1,0 -6.4,0M407.1,847.0a3.2,3.2 0 1,0 6.4,0a3.2,3.2 0 1,0 -6.4,0M408.8,846.8a3.2,3.2 0 1,0 6.4,0a3.2,3.2 0 1,0 -6.4,0M410.2,848.1a3.2,3.2 0 1,0 6.4,0a3.2,3.2 0 1,0 -6.4,0M411.8,848.7a3.2,3.2 0 1,0 6.4,0a3.2,3.2 0 1,0 -6.4,0M413.7,848.0a3.2,3.2 0 1,0 6.4,0a3.2,3.2 0 1,0 -6.4,0M415.5,848.5a3.2,3.2 0 1,0 6.4,0a3.2,3.2 0 1,0 -6.4,0M417.1,848.7a3.2,3.2 0 1,0 6.4,0a3.2,3.2 0 1,0 -6.4,0M418.6,849.7a3.2,3.2 0 1,0 6.4,0a3.2,3.2 0 1,0 -6.4,0M420.3,849.4a3.2,3.2 0 1,0 6.4,0a3.2,3.2 0 1,0 -6.4,0M422.0,849.7a3.2,3.2 0 1,0 6.4,0a3.2,3.2 0 1,0 -6.4,0M423.4,850.9a3.2,3.2 0 1,0 6.4,0a3.2,3.2 0 1,0 -6.4,0M425.2,850.6a3.2,3.2 0 1,0 6.4,0a3.2,3.2 0 1,0 -6.4,0M426.8,850.8a3.2,3.2 0 1,0 6.4,0a3.2,3.2 0 1,0 -6.4,0M428.4,851.3a3.2,3.2 0 1,0 6.4,0a3.2,3.2 0 1,0 -6.4,0M430.0,851.8a3.2,3.2 0 1,0 6.4,0a3.2,3.2 0 1,0 -6.4,0M431.5,852.4a3.2,3.2 0 1,0 6.4,0a3.2,3.2 0 1,0 -6.4,0M433.2,852.7a3.2,3.2 0 1,0 6.4,0a3.2,3.2 0 1,0 -6.4,0M434.8,853.1a3.2,3.2 0 1,0 6.4,0a3.2,3.2 0 1,0 -6.4,0M436.4,853.6a3.2,3.2 0 1,0 6.4,0a3.2,3.2 0 1,0 -6.4,0M438.1,853.3a3.2,3.2 0 1,0 6.4,0a3.2,3.2 0 1,0 -6.4,0M439.7,854.0a3.2,3.2 0 1,0 6.4,0a3.2,3.2 0 1,0 -6.4,0M441.4,853.7a3.2,3.2 0 1,0 6.4,0a3.2,3.2 0 1,0 -6.4,0M442.8,855.0a3.2,3.2 0 1,0 6.4,0a3.2,3.2 0 1,0 -6.4,0M444.8,854.3a3.2,3.2 0 1,0 6.4,0a3.2,3.2 0 1,0 -6.4,0M446.4,854.8a3.2,3.2 0 1,0 6.4,0a3.2,3.2 0 1,0 -6.4,0M448.0,854.8a3.2,3.2 0 1,0 6.4,0a3.2,3.2 0 1,0 -6.4,0M449.7,855.0a3.2,3.2 0 1,0 6.4,0a3.2,3.2 0 1,0 -6.4,0M451.3,855.3a3.2,3.2 0 1,0 6.4,0a3.2,3.2 0 1,0 -6.4,0M452.8,855.9a3.2,3.2 0 1,0 6.4,0a3.2,3.2 0 1,0 -6.4,0M454.4,856.8a3.2,3.2 0 1,0 6.4,0a3.2,3.2 0 1,0 -6.4,0M456.1,856.2a3.2,3.2 0 1,0 6.4,0a3.2,3.2 0 1,0 -6.4,0M457.6,857.1a3.2,3.2 0 1,0 6.4,0a3.2,3.2 0 1,0 -6.4,0M459.2,857.2a3.2,3.2 0 1,0 6.4,0a3.2,3.2 0 1,0 -6.4,0M460.9,857.0a3.2,3.2 0 1,0 6.4,0a3.2,3.2 0 1,0 -6.4,0M462.5,857.5a3.2,3.2 0 1,0 6.4,0a3.2,3.2 0 1,0 -6.4,0M464.1,857.9a3.2,3.2 0 1,0 6.4,0a3.2,3.2 0 1,0 -6.4,0M465.8,857.6a3.2,3.2 0 1,0 6.4,0a3.2,3.2 0 1,0 -6.4,0M467.4,858.3a3.2,3.2 0 1,0 6.4,0a3.2,3.2 0 1,0 -6.4,0M468.9,858.9a3.2,3.2 0 1,0 6.4,0a3.2,3.2 0 1,0 -6.4,0M470.5,859.3a3.2,3.2 0 1,0 6.4,0a3.2,3.2 0 1,0 -6.4,0M472.3,858.8a3.2,3.2 0 1,0 6.4,0a3.2,3.2 0 1,0 -6.4,0M474.3,859.6a3.2,3.2 0 1,0 6.4,0a3.2,3.2 0 1,0 -6.4,0M476.2,859.3a3.2,3.2 0 1,0 6.4,0a3.2,3.2 0 1,0 -6.4,0M478.0,859.9a3.2,3.2 0 1,0 6.4,0a3.2,3.2 0 1,0 -6.4,0M479.9,860.1a3.2,3.2 0 1,0 6.4,0a3.2,3.2 0 1,0 -6.4,0M481.3,859.7a3.2,3.2 0 1,0 6.4,0a3.2,3.2 0 1,0 -6.4,0M483.0,859.6a3.2,3.2 0 1,0 6.4,0a3.2,3.2 0 1,0 -6.4,0M484.5,860.6a3.2,3.2 0 1,0 6.4,0a3.2,3.2 0 1,0 -6.4,0M486.2,860.2a3.2,3.2 0 1,0 6.4,0a3.2,3.2 0 1,0 -6.4,0M487.9,860.2a3.2,3.2 0 1,0 6.4,0a3.2,3.2 0 1,0 -6.4,0M489.5,860.6a3.2,3.2 0 1,0 6.4,0a3.2,3.2 0 1,0 -6.4,0M491.1,860.8a3.2,3.2 0 1,0 6.4,0a3.2,3.2 0 1,0 -6.4,0M492.6,862.1a3.2,3.2 0 1,0 6.4,0a3.2,3.2 0 1,0 -6.4,0M494.3,861.6a3.2,3.2 0 1,0 6.4,0a3.2,3.2 0 1,0 -6.4,0M496.0,861.5a3.2,3.2 0 1,0 6.4,0a3.2,3.2 0 1,0 -6.4,0M497.5,862.7a3.2,3.2 0 1,0 6.4,0a3.2,3.2 0 1,0 -6.4,0M499.1,862.7a3.2,3.2 0 1,0 6.4,0a3.2,3.2 0 1,0 -6.4,0M500.7,863.0a3.2,3.2 0 1,0 6.4,0a3.2,3.2 0 1,0 -6.4,0M502.4,862.9a3.2,3.2 0 1,0 6.4,0a3.2,3.2 0 1,0 -6.4,0M504.0,863.3a3.2,3.2 0 1,0 6.4,0a3.2,3.2 0 1,0 -6.4,0M505.7,863.5a3.2,3.2 0 1,0 6.4,0a3.2,3.2 0 1,0 -6.4,0M507.3,863.3a3.2,3.2 0 1,0 6.4,0a3.2,3.2 0 1,0 -6.4,0M508.8,864.5a3.2,3.2 0 1,0 6.4,0a3.2,3.2 0 1,0 -6.4,0M510.3,864.7a3.2,3.2 0 1,0 6.4,0a3.2,3.2 0 1,0 -6.4,0M511.9,864.9a3.2,3.2 0 1,0 6.4,0a3.2,3.2 0 1,0 -6.4,0M513.5,865.2a3.2,3.2 0 1,0 6.4,0a3.2,3.2 0 1,0 -6.4,0M515.1,865.6a3.2,3.2 0 1,0 6.4,0a3.2,3.2 0 1,0 -6.4,0M517.0,864.9a3.2,3.2 0 1,0 6.4,0a3.2,3.2 0 1,0 -6.4,0M518.6,865.3a3.2,3.2 0 1,0 6.4,0a3.2,3.2 0 1,0 -6.4,0M520.0,866.6a3.2,3.2 0 1,0 6.4,0a3.2,3.2 0 1,0 -6.4,0M521.7,866.4a3.2,3.2 0 1,0 6.4,0a3.2,3.2 0 1,0 -6.4,0M523.3,866.9a3.2,3.2 0 1,0 6.4,0a3.2,3.2 0 1,0 -6.4,0M525.3,867.3a3.2,3.2 0 1,0 6.4,0a3.2,3.2 0 1,0 -6.4,0M526.9,867.4a3.2,3.2 0 1,0 6.4,0a3.2,3.2 0 1,0 -6.4,0M528.5,867.2a3.2,3.2 0 1,0 6.4,0a3.2,3.2 0 1,0 -6.4,0M530.2,867.5a3.2,3.2 0 1,0 6.4,0a3.2,3.2 0 1,0 -6.4,0M531.7,867.9a3.2,3.2 0 1,0 6.4,0a3.2,3.2 0 1,0 -6.4,0M533.3,868.3a3.2,3.2 0 1,0 6.4,0a3.2,3.2 0 1,0 -6.4,0M535.0,868.3a3.2,3.2 0 1,0 6.4,0a3.2,3.2 0 1,0 -6.4,0M536.6,868.7a3.2,3.2 0 1,0 6.4,0a3.2,3.2 0 1,0 -6.4,0M538.3,868.4a3.2,3.2 0 1,0 6.4,0a3.2,3.2 0 1,0 -6.4,0M539.9,868.3a3.2,3.2 0 1,0 6.4,0a3.2,3.2 0 1,0 -6.4,0M541.5,868.9a3.2,3.2 0 1,0 6.4,0a3.2,3.2 0 1,0 -6.4,0M543.1,869.4a3.2,3.2 0 1,0 6.4,0a3.2,3.2 0 1,0 -6.4,0M544.7,869.4a3.2,3.2 0 1,0 6.4,0a3.2,3.2 0 1,0 -6.4,0M546.4,869.4a3.2,3.2 0 1,0 6.4,0a3.2,3.2 0 1,0 -6.4,0M548.0,869.2a3.2,3.2 0 1,0 6.4,0a3.2,3.2 0 1,0 -6.4,0M549.7,869.2a3.2,3.2 0 1,0 6.4,0a3.2,3.2 0 1,0 -6.4,0M551.2,869.8a3.2,3.2 0 1,0 6.4,0a3.2,3.2 0 1,0 -6.4,0M552.9,869.5a3.2,3.2 0 1,0 6.4,0a3.2,3.2 0 1,0 -6.4,0M554.3,869.8a3.2,3.2 0 1,0 6.4,0a3.2,3.2 0 1,0 -6.4,0M555.9,870.3a3.2,3.2 0 1,0 6.4,0a3.2,3.2 0 1,0 -6.4,0M557.5,870.6a3.2,3.2 0 1,0 6.4,0a3.2,3.2 0 1,0 -6.4,0M559.2,870.7a3.2,3.2 0 1,0 6.4,0a3.2,3.2 0 1,0 -6.4,0M560.8,870.7a3.2,3.2 0 1,0 6.4,0a3.2,3.2 0 1,0 -6.4,0M562.4,871.3a3.2,3.2 0 1,0 6.4,0a3.2,3.2 0 1,0 -6.4,0M564.1,871.2a3.2,3.2 0 1,0 6.4,0a3.2,3.2 0 1,0 -6.4,0M565.7,871.7a3.2,3.2 0 1,0 6.4,0a3.2,3.2 0 1,0 -6.4,0M567.3,872.2a3.2,3.2 0 1,0 6.4,0a3.2,3.2 0 1,0 -6.4,0M569.4,872.2a3.2,3.2 0 1,0 6.4,0a3.2,3.2 0 1,0 -6.4,0M571.2,872.0a3.2,3.2 0 1,0 6.4,0a3.2,3.2 0 1,0 -6.4,0M573.1,872.7a3.2,3.2 0 1,0 6.4,0a3.2,3.2 0 1,0 -6.4,0M574.9,872.3a3.2,3.2 0 1,0 6.4,0a3.2,3.2 0 1,0 -6.4,0M576.3,872.3a3.2,3.2 0 1,0 6.4,0a3.2,3.2 0 1,0 -6.4,0M578.0,872.0a3.2,3.2 0 1,0 6.4,0a3.2,3.2 0 1,0 -6.4,0M579.6,872.1a3.2,3.2 0 1,0 6.4,0a3.2,3.2 0 1,0 -6.4,0M581.2,873.0a3.2,3.2 0 1,0 6.4,0a3.2,3.2 0 1,0 -6.4,0M582.9,872.7a3.2,3.2 0 1,0 6.4,0a3.2,3.2 0 1,0 -6.4,0M584.5,873.0a3.2,3.2 0 1,0 6.4,0a3.2,3.2 0 1,0 -6.4,0M586.0,873.9a3.2,3.2 0 1,0 6.4,0a3.2,3.2 0 1,0 -6.4,0M587.7,873.9a3.2,3.2 0 1,0 6.4,0a3.2,3.2 0 1,0 -6.4,0M589.2,874.6a3.2,3.2 0 1,0 6.4,0a3.2,3.2 0 1,0 -6.4,0M591.0,874.0a3.2,3.2 0 1,0 6.4,0a3.2,3.2 0 1,0 -6.4,0M592.6,874.4a3.2,3.2 0 1,0 6.4,0a3.2,3.2 0 1,0 -6.4,0M594.2,874.4a3.2,3.2 0 1,0 6.4,0a3.2,3.2 0 1,0 -6.4,0M595.8,874.8a3.2,3.2 0 1,0 6.4,0a3.2,3.2 0 1,0 -6.4,0M597.4,875.1a3.2,3.2 0 1,0 6.4,0a3.2,3.2 0 1,0 -6.4,0M599.1,875.3a3.2,3.2 0 1,0 6.4,0a3.2,3.2 0 1,0 -6.4,0M600.7,875.8a3.2,3.2 0 1,0 6.4,0a3.2,3.2 0 1,0 -6.4,0M602.2,876.5a3.2,3.2 0 1,0 6.4,0a3.2,3.2 0 1,0 -6.4,0M603.9,876.2a3.2,3.2 0 1,0 6.4,0a3.2,3.2 0 1,0 -6.4,0M605.4,877.2a3.2,3.2 0 1,0 6.4,0a3.2,3.2 0 1,0 -6.4,0M607.1,877.2a3.2,3.2 0 1,0 6.4,0a3.2,3.2 0 1,0 -6.4,0M608.8,876.7a3.2,3.2 0 1,0 6.4,0a3.2,3.2 0 1,0 -6.4,0M610.3,877.8a3.2,3.2 0 1,0 6.4,0a3.2,3.2 0 1,0 -6.4,0M611.9,878.0a3.2,3.2 0 1,0 6.4,0a3.2,3.2 0 1,0 -6.4,0M613.6,878.3a3.2,3.2 0 1,0 6.4,0a3.2,3.2 0 1,0 -6.4,0M615.3,877.6a3.2,3.2 0 1,0 6.4,0a3.2,3.2 0 1,0 -6.4,0M616.8,878.7a3.2,3.2 0 1,0 6.4,0a3.2,3.2 0 1,0 -6.4,0M618.4,879.1a3.2,3.2 0 1,0 6.4,0a3.2,3.2 0 1,0 -6.4,0M620.2,878.4a3.2,3.2 0 1,0 6.4,0a3.2,3.2 0 1,0 -6.4,0M621.7,879.5a3.2,3.2 0 1,0 6.4,0a3.2,3.2 0 1,0 -6.4,0M623.4,878.8a3.2,3.2 0 1,0 6.4,0a3.2,3.2 0 1,0 -6.4,0M625.0,879.3a3.2,3.2 0 1,0 6.4,0a3.2,3.2 0 1,0 -6.4,0M626.7,879.3a3.2,3.2 0 1,0 6.4,0a3.2,3.2 0 1,0 -6.4,0M628.3,879.4a3.2,3.2 0 1,0 6.4,0a3.2,3.2 0 1,0 -6.4,0M629.9,880.1a3.2,3.2 0 1,0 6.4,0a3.2,3.2 0 1,0 -6.4,0M631.5,880.1a3.2,3.2 0 1,0 6.4,0a3.2,3.2 0 1,0 -6.4,0M633.0,881.3a3.2,3.2 0 1,0 6.4,0a3.2,3.2 0 1,0 -6.4,0M634.8,880.7a3.2,3.2 0 1,0 6.4,0a3.2,3.2 0 1,0 -6.4,0M636.4,881.2a3.2,3.2 0 1,0 6.4,0a3.2,3.2 0 1,0 -6.4,0M638.1,881.1a3.2,3.2 0 1,0 6.4,0a3.2,3.2 0 1,0 -6.4,0M639.6,882.1a3.2,3.2 0 1,0 6.4,0a3.2,3.2 0 1,0 -6.4,0M641.3,881.5a3.2,3.2 0 1,0 6.4,0a3.2,3.2 0 1,0 -6.4,0M643.0,881.5a3.2,3.2 0 1,0 6.4,0a3.2,3.2 0 1,0 -6.4,0M644.5,882.8a3.2,3.2 0 1,0 6.4,0a3.2,3.2 0 1,0 -6.4,0M646.1,882.7a3.2,3.2 0 1,0 6.4,0a3.2,3.2 0 1,0 -6.4,0M647.8,882.6a3.2,3.2 0 1,0 6.4,0a3.2,3.2 0 1,0 -6.4,0M649.6,882.5a3.2,3.2 0 1,0 6.4,0a3.2,3.2 0 1,0 -6.4,0M651.2,883.3a3.2,3.2 0 1,0 6.4,0a3.2,3.2 0 1,0 -6.4,0M652.9,883.5a3.2,3.2 0 1,0 6.4,0a3.2,3.2 0 1,0 -6.4,0M654.5,883.5a3.2,3.2 0 1,0 6.4,0a3.2,3.2 0 1,0 -6.4,0M656.2,883.1a3.2,3.2 0 1,0 6.4,0a3.2,3.2 0 1,0 -6.4,0M657.9,883.1a3.2,3.2 0 1,0 6.4,0a3.2,3.2 0 1,0 -6.4,0M659.5,883.6a3.2,3.2 0 1,0 6.4,0a3.2,3.2 0 1,0 -6.4,0M661.1,883.7a3.2,3.2 0 1,0 6.4,0a3.2,3.2 0 1,0 -6.4,0M662.8,883.8a3.2,3.2 0 1,0 6.4,0a3.2,3.2 0 1,0 -6.4,0M664.4,883.9a3.2,3.2 0 1,0 6.4,0a3.2,3.2 0 1,0 -6.4,0M666.0,883.9a3.2,3.2 0 1,0 6.4,0a3.2,3.2 0 1,0 -6.4,0M667.7,884.4a3.2,3.2 0 1,0 6.4,0a3.2,3.2 0 1,0 -6.4,0M669.3,884.0a3.2,3.2 0 1,0 6.4,0a3.2,3.2 0 1,0 -6.4,0M671.0,883.5a3.2,3.2 0 1,0 6.4,0a3.2,3.2 0 1,0 -6.4,0M134.9,723.9a3.2,3.2 0 1,0 6.4,0a3.2,3.2 0 1,0 -6.4,0M135.6,725.4a3.2,3.2 0 1,0 6.4,0a3.2,3.2 0 1,0 -6.4,0M135.8,727.1a3.2,3.2 0 1,0 6.4,0a3.2,3.2 0 1,0 -6.4,0M135.8,727.1a3.2,3.2 0 1,0 6.4,0a3.2,3.2 0 1,0 -6.4,0M137.2,728.4a3.2,3.2 0 1,0 6.4,0a3.2,3.2 0 1,0 -6.4,0M138.2,730.0a3.2,3.2 0 1,0 6.4,0a3.2,3.2 0 1,0 -6.4,0M139.1,731.8a3.2,3.2 0 1,0 6.4,0a3.2,3.2 0 1,0 -6.4,0M140.0,732.6a3.2,3.2 0 1,0 6.4,0a3.2,3.2 0 1,0 -6.4,0M141.6,733.5a3.2,3.2 0 1,0 6.4,0a3.2,3.2 0 1,0 -6.4,0M143.5,733.9a3.2,3.2 0 1,0 6.4,0a3.2,3.2 0 1,0 -6.4,0M146.1,736.7a3.2,3.2 0 1,0 6.4,0a3.2,3.2 0 1,0 -6.4,0M147.1,738.3a3.2,3.2 0 1,0 6.4,0a3.2,3.2 0 1,0 -6.4,0M148.0,740.0a3.2,3.2 0 1,0 6.4,0a3.2,3.2 0 1,0 -6.4,0M148.8,741.7a3.2,3.2 0 1,0 6.4,0a3.2,3.2 0 1,0 -6.4,0M149.4,743.5a3.2,3.2 0 1,0 6.4,0a3.2,3.2 0 1,0 -6.4,0M149.2,745.4a3.2,3.2 0 1,0 6.4,0a3.2,3.2 0 1,0 -6.4,0M150.2,747.1a3.2,3.2 0 1,0 6.4,0a3.2,3.2 0 1,0 -6.4,0M151.1,748.9a3.2,3.2 0 1,0 6.4,0a3.2,3.2 0 1,0 -6.4,0M151.3,749.8a3.2,3.2 0 1,0 6.4,0a3.2,3.2 0 1,0 -6.4,0M153.5,750.8a3.2,3.2 0 1,0 6.4,0a3.2,3.2 0 1,0 -6.4,0M154.1,751.8a3.2,3.2 0 1,0 6.4,0a3.2,3.2 0 1,0 -6.4,0M155.7,752.8a3.2,3.2 0 1,0 6.4,0a3.2,3.2 0 1,0 -6.4,0M158.1,754.0a3.2,3.2 0 1,0 6.4,0a3.2,3.2 0 1,0 -6.4,0M159.8,755.4a3.2,3.2 0 1,0 6.4,0a3.2,3.2 0 1,0 -6.4,0M162.1,757.2a3.2,3.2 0 1,0 6.4,0a3.2,3.2 0 1,0 -6.4,0M164.2,758.4a3.2,3.2 0 1,0 6.4,0a3.2,3.2 0 1,0 -6.4,0M165.4,761.2a3.2,3.2 0 1,0 6.4,0a3.2,3.2 0 1,0 -6.4,0M166.0,762.8a3.2,3.2 0 1,0 6.4,0a3.2,3.2 0 1,0 -6.4,0M166.8,764.2a3.2,3.2 0 1,0 6.4,0a3.2,3.2 0 1,0 -6.4,0M167.8,765.6a3.2,3.2 0 1,0 6.4,0a3.2,3.2 0 1,0 -6.4,0M167.5,766.2a3.2,3.2 0 1,0 6.4,0a3.2,3.2 0 1,0 -6.4,0M169.0,767.1a3.2,3.2 0 1,0 6.4,0a3.2,3.2 0 1,0 -6.4,0M169.4,768.9a3.2,3.2 0 1,0 6.4,0a3.2,3.2 0 1,0 -6.4,0M171.0,770.5a3.2,3.2 0 1,0 6.4,0a3.2,3.2 0 1,0 -6.4,0M172.4,772.3a3.2,3.2 0 1,0 6.4,0a3.2,3.2 0 1,0 -6.4,0M174.4,773.6a3.2,3.2 0 1,0 6.4,0a3.2,3.2 0 1,0 -6.4,0M175.4,775.4a3.2,3.2 0 1,0 6.4,0a3.2,3.2 0 1,0 -6.4,0M177.4,776.2a3.2,3.2 0 1,0 6.4,0a3.2,3.2 0 1,0 -6.4,0M179.3,777.8a3.2,3.2 0 1,0 6.4,0a3.2,3.2 0 1,0 -6.4,0M181.1,779.4a3.2,3.2 0 1,0 6.4,0a3.2,3.2 0 1,0 -6.4,0M181.2,779.8a3.2,3.2 0 1,0 6.4,0a3.2,3.2 0 1,0 -6.4,0M183.0,779.8a3.2,3.2 0 1,0 6.4,0a3.2,3.2 0 1,0 -6.4,0M184.7,780.2a3.2,3.2 0 1,0 6.4,0a3.2,3.2 0 1,0 -6.4,0M189.0,781.7a3.2,3.2 0 1,0 6.4,0a3.2,3.2 0 1,0 -6.4,0M190.2,783.0a3.2,3.2 0 1,0 6.4,0a3.2,3.2 0 1,0 -6.4,0M190.9,784.6a3.2,3.2 0 1,0 6.4,0a3.2,3.2 0 1,0 -6.4,0M191.0,786.0a3.2,3.2 0 1,0 6.4,0a3.2,3.2 0 1,0 -6.4,0M192.1,786.6a3.2,3.2 0 1,0 6.4,0a3.2,3.2 0 1,0 -6.4,0M193.7,787.3a3.2,3.2 0 1,0 6.4,0a3.2,3.2 0 1,0 -6.4,0M195.0,788.6a3.2,3.2 0 1,0 6.4,0a3.2,3.2 0 1,0 -6.4,0M196.7,788.9a3.2,3.2 0 1,0 6.4,0a3.2,3.2 0 1,0 -6.4,0M198.2,790.0a3.2,3.2 0 1,0 6.4,0a3.2,3.2 0 1,0 -6.4,0M199.7,790.6a3.2,3.2 0 1,0 6.4,0a3.2,3.2 0 1,0 -6.4,0M201.2,791.2a3.2,3.2 0 1,0 6.4,0a3.2,3.2 0 1,0 -6.4,0M202.1,792.6a3.2,3.2 0 1,0 6.4,0a3.2,3.2 0 1,0 -6.4,0M204.4,792.4a3.2,3.2 0 1,0 6.4,0a3.2,3.2 0 1,0 -6.4,0M206.2,793.4a3.2,3.2 0 1,0 6.4,0a3.2,3.2 0 1,0 -6.4,0M205.4,794.0a3.2,3.2 0 1,0 6.4,0a3.2,3.2 0 1,0 -6.4,0M207.1,793.7a3.2,3.2 0 1,0 6.4,0a3.2,3.2 0 1,0 -6.4,0M208.4,792.6a3.2,3.2 0 1,0 6.4,0a3.2,3.2 0 1,0 -6.4,0M212.7,791.9a3.2,3.2 0 1,0 6.4,0a3.2,3.2 0 1,0 -6.4,0M214.3,793.1a3.2,3.2 0 1,0 6.4,0a3.2,3.2 0 1,0 -6.4,0M216.3,793.3a3.2,3.2 0 1,0 6.4,0a3.2,3.2 0 1,0 -6.4,0M218.1,794.4a3.2,3.2 0 1,0 6.4,0a3.2,3.2 0 1,0 -6.4,0M220.1,795.7a3.2,3.2 0 1,0 6.4,0a3.2,3.2 0 1,0 -6.4,0M222.0,795.7a3.2,3.2 0 1,0 6.4,0a3.2,3.2 0 1,0 -6.4,0M223.5,796.5a3.2,3.2 0 1,0 6.4,0a3.2,3.2 0 1,0 -6.4,0M224.9,797.5a3.2,3.2 0 1,0 6.4,0a3.2,3.2 0 1,0 -6.4,0M226.0,799.0a3.2,3.2 0 1,0 6.4,0a3.2,3.2 0 1,0 -6.4,0M226.9,799.4a3.2,3.2 0 1,0 6.4,0a3.2,3.2 0 1,0 -6.4,0M228.8,799.5a3.2,3.2 0 1,0 6.4,0a3.2,3.2 0 1,0 -6.4,0M230.6,800.1a3.2,3.2 0 1,0 6.4,0a3.2,3.2 0 1,0 -6.4,0M232.5,800.5a3.2,3.2 0 1,0 6.4,0a3.2,3.2 0 1,0 -6.4,0M234.2,801.4a3.2,3.2 0 1,0 6.4,0a3.2,3.2 0 1,0 -6.4,0M236.2,801.5a3.2,3.2 0 1,0 6.4,0a3.2,3.2 0 1,0 -6.4,0M237.8,802.8a3.2,3.2 0 1,0 6.4,0a3.2,3.2 0 1,0 -6.4,0M239.6,803.5a3.2,3.2 0 1,0 6.4,0a3.2,3.2 0 1,0 -6.4,0M241.8,804.3a3.2,3.2 0 1,0 6.4,0a3.2,3.2 0 1,0 -6.4,0M243.4,804.8a3.2,3.2 0 1,0 6.4,0a3.2,3.2 0 1,0 -6.4,0M244.7,805.8a3.2,3.2 0 1,0 6.4,0a3.2,3.2 0 1,0 -6.4,0M246.7,805.5a3.2,3.2 0 1,0 6.4,0a3.2,3.2 0 1,0 -6.4,0M248.0,806.6a3.2,3.2 0 1,0 6.4,0a3.2,3.2 0 1,0 -6.4,0M249.4,808.2a3.2,3.2 0 1,0 6.4,0a3.2,3.2 0 1,0 -6.4,0M251.0,809.1a3.2,3.2 0 1,0 6.4,0a3.2,3.2 0 1,0 -6.4,0M252.7,809.7a3.2,3.2 0 1,0 6.4,0a3.2,3.2 0 1,0 -6.4,0M253.8,811.3a3.2,3.2 0 1,0 6.4,0a3.2,3.2 0 1,0 -6.4,0M255.5,812.0a3.2,3.2 0 1,0 6.4,0a3.2,3.2 0 1,0 -6.4,0M254.6,812.7a3.2,3.2 0 1,0 6.4,0a3.2,3.2 0 1,0 -6.4,0M256.3,811.7a3.2,3.2 0 1,0 6.4,0a3.2,3.2 0 1,0 -6.4,0M258.1,811.3a3.2,3.2 0 1,0 6.4,0a3.2,3.2 0 1,0 -6.4,0M260.0,811.2a3.2,3.2 0 1,0 6.4,0a3.2,3.2 0 1,0 -6.4,0M263.5,810.5a3.2,3.2 0 1,0 6.4,0a3.2,3.2 0 1,0 -6.4,0M265.3,811.4a3.2,3.2 0 1,0 6.4,0a3.2,3.2 0 1,0 -6.4,0M266.9,812.6a3.2,3.2 0 1,0 6.4,0a3.2,3.2 0 1,0 -6.4,0M269.0,812.4a3.2,3.2 0 1,0 6.4,0a3.2,3.2 0 1,0 -6.4,0M270.2,812.4a3.2,3.2 0 1,0 6.4,0a3.2,3.2 0 1,0 -6.4,0M272.0,812.6a3.2,3.2 0 1,0 6.4,0a3.2,3.2 0 1,0 -6.4,0M273.8,813.0a3.2,3.2 0 1,0 6.4,0a3.2,3.2 0 1,0 -6.4,0M275.5,813.9a3.2,3.2 0 1,0 6.4,0a3.2,3.2 0 1,0 -6.4,0M277.8,813.6a3.2,3.2 0 1,0 6.4,0a3.2,3.2 0 1,0 -6.4,0M279.6,813.9a3.2,3.2 0 1,0 6.4,0a3.2,3.2 0 1,0 -6.4,0M281.5,814.0a3.2,3.2 0 1,0 6.4,0a3.2,3.2 0 1,0 -6.4,0M283.1,815.5a3.2,3.2 0 1,0 6.4,0a3.2,3.2 0 1,0 -6.4,0M285.8,815.4a3.2,3.2 0 1,0 6.4,0a3.2,3.2 0 1,0 -6.4,0M287.4,815.9a3.2,3.2 0 1,0 6.4,0a3.2,3.2 0 1,0 -6.4,0M289.0,816.5a3.2,3.2 0 1,0 6.4,0a3.2,3.2 0 1,0 -6.4,0M290.5,817.2a3.2,3.2 0 1,0 6.4,0a3.2,3.2 0 1,0 -6.4,0M291.9,818.0a3.2,3.2 0 1,0 6.4,0a3.2,3.2 0 1,0 -6.4,0M292.4,819.1a3.2,3.2 0 1,0 6.4,0a3.2,3.2 0 1,0 -6.4,0M294.4,818.8a3.2,3.2 0 1,0 6.4,0a3.2,3.2 0 1,0 -6.4,0M296.2,819.1a3.2,3.2 0 1,0 6.4,0a3.2,3.2 0 1,0 -6.4,0M297.9,820.0a3.2,3.2 0 1,0 6.4,0a3.2,3.2 0 1,0 -6.4,0M300.2,820.2a3.2,3.2 0 1,0 6.4,0a3.2,3.2 0 1,0 -6.4,0M302.1,821.7a3.2,3.2 0 1,0 6.4,0a3.2,3.2 0 1,0 -6.4,0M303.1,821.3a3.2,3.2 0 1,0 6.4,0a3.2,3.2 0 1,0 -6.4,0M305.1,821.5a3.2,3.2 0 1,0 6.4,0a3.2,3.2 0 1,0 -6.4,0M307.0,821.6a3.2,3.2 0 1,0 6.4,0a3.2,3.2 0 1,0 -6.4,0M311.8,822.0a3.2,3.2 0 1,0 6.4,0a3.2,3.2 0 1,0 -6.4,0M312.4,823.8a3.2,3.2 0 1,0 6.4,0a3.2,3.2 0 1,0 -6.4,0M313.9,824.6a3.2,3.2 0 1,0 6.4,0a3.2,3.2 0 1,0 -6.4,0M315.3,825.7a3.2,3.2 0 1,0 6.4,0a3.2,3.2 0 1,0 -6.4,0M313.0,826.1a3.2,3.2 0 1,0 6.4,0a3.2,3.2 0 1,0 -6.4,0M314.8,825.2a3.2,3.2 0 1,0 6.4,0a3.2,3.2 0 1,0 -6.4,0M316.7,825.3a3.2,3.2 0 1,0 6.4,0a3.2,3.2 0 1,0 -6.4,0M318.5,824.7a3.2,3.2 0 1,0 6.4,0a3.2,3.2 0 1,0 -6.4,0M321.8,825.2a3.2,3.2 0 1,0 6.4,0a3.2,3.2 0 1,0 -6.4,0M323.6,825.7a3.2,3.2 0 1,0 6.4,0a3.2,3.2 0 1,0 -6.4,0M325.6,825.8a3.2,3.2 0 1,0 6.4,0a3.2,3.2 0 1,0 -6.4,0M327.6,825.8a3.2,3.2 0 1,0 6.4,0a3.2,3.2 0 1,0 -6.4,0M329.9,826.9a3.2,3.2 0 1,0 6.4,0a3.2,3.2 0 1,0 -6.4,0M331.3,827.6a3.2,3.2 0 1,0 6.4,0a3.2,3.2 0 1,0 -6.4,0M332.8,828.3a3.2,3.2 0 1,0 6.4,0a3.2,3.2 0 1,0 -6.4,0M334.3,829.1a3.2,3.2 0 1,0 6.4,0a3.2,3.2 0 1,0 -6.4,0M335.4,830.5a3.2,3.2 0 1,0 6.4,0a3.2,3.2 0 1,0 -6.4,0M335.9,830.1a3.2,3.2 0 1,0 6.4,0a3.2,3.2 0 1,0 -6.4,0M337.8,830.2a3.2,3.2 0 1,0 6.4,0a3.2,3.2 0 1,0 -6.4,0M339.5,831.4a3.2,3.2 0 1,0 6.4,0a3.2,3.2 0 1,0 -6.4,0M341.4,831.1a3.2,3.2 0 1,0 6.4,0a3.2,3.2 0 1,0 -6.4,0M343.7,831.9a3.2,3.2 0 1,0 6.4,0a3.2,3.2 0 1,0 -6.4,0M345.7,831.8a3.2,3.2 0 1,0 6.4,0a3.2,3.2 0 1,0 -6.4,0M347.3,832.9a3.2,3.2 0 1,0 6.4,0a3.2,3.2 0 1,0 -6.4,0M349.2,833.2a3.2,3.2 0 1,0 6.4,0a3.2,3.2 0 1,0 -6.4,0M351.0,833.9a3.2,3.2 0 1,0 6.4,0a3.2,3.2 0 1,0 -6.4,0M352.9,834.4a3.2,3.2 0 1,0 6.4,0a3.2,3.2 0 1,0 -6.4,0M354.8,834.6a3.2,3.2 0 1,0 6.4,0a3.2,3.2 0 1,0 -6.4,0M356.7,834.7a3.2,3.2 0 1,0 6.4,0a3.2,3.2 0 1,0 -6.4,0M358.5,835.4a3.2,3.2 0 1,0 6.4,0a3.2,3.2 0 1,0 -6.4,0M360.1,836.7a3.2,3.2 0 1,0 6.4,0a3.2,3.2 0 1,0 -6.4,0M361.9,837.3a3.2,3.2 0 1,0 6.4,0a3.2,3.2 0 1,0 -6.4,0M363.8,837.9a3.2,3.2 0 1,0 6.4,0a3.2,3.2 0 1,0 -6.4,0M365.7,837.7a3.2,3.2 0 1,0 6.4,0a3.2,3.2 0 1,0 -6.4,0M367.4,838.6a3.2,3.2 0 1,0 6.4,0a3.2,3.2 0 1,0 -6.4,0M369.2,839.2a3.2,3.2 0 1,0 6.4,0a3.2,3.2 0 1,0 -6.4,0M371.0,839.5a3.2,3.2 0 1,0 6.4,0a3.2,3.2 0 1,0 -6.4,0M372.7,840.2a3.2,3.2 0 1,0 6.4,0a3.2,3.2 0 1,0 -6.4,0M374.6,840.2a3.2,3.2 0 1,0 6.4,0a3.2,3.2 0 1,0 -6.4,0M376.4,840.8a3.2,3.2 0 1,0 6.4,0a3.2,3.2 0 1,0 -6.4,0M378.3,841.3a3.2,3.2 0 1,0 6.4,0a3.2,3.2 0 1,0 -6.4,0M380.1,841.2a3.2,3.2 0 1,0 6.4,0a3.2,3.2 0 1,0 -6.4,0M381.8,842.4a3.2,3.2 0 1,0 6.4,0a3.2,3.2 0 1,0 -6.4,0M383.7,842.8a3.2,3.2 0 1,0 6.4,0a3.2,3.2 0 1,0 -6.4,0M385.7,842.2a3.2,3.2 0 1,0 6.4,0a3.2,3.2 0 1,0 -6.4,0M387.3,843.6a3.2,3.2 0 1,0 6.4,0a3.2,3.2 0 1,0 -6.4,0M388.9,843.9a3.2,3.2 0 1,0 6.4,0a3.2,3.2 0 1,0 -6.4,0M390.6,843.9a3.2,3.2 0 1,0 6.4,0a3.2,3.2 0 1,0 -6.4,0M392.4,843.5a3.2,3.2 0 1,0 6.4,0a3.2,3.2 0 1,0 -6.4,0M393.8,844.8a3.2,3.2 0 1,0 6.4,0a3.2,3.2 0 1,0 -6.4,0M395.6,844.2a3.2,3.2 0 1,0 6.4,0a3.2,3.2 0 1,0 -6.4,0M397.0,845.5a3.2,3.2 0 1,0 6.4,0a3.2,3.2 0 1,0 -6.4,0M398.7,845.5a3.2,3.2 0 1,0 6.4,0a3.2,3.2 0 1,0 -6.4,0M400.5,845.1a3.2,3.2 0 1,0 6.4,0a3.2,3.2 0 1,0 -6.4,0M402.2,845.6a3.2,3.2 0 1,0 6.4,0a3.2,3.2 0 1,0 -6.4,0M403.7,846.5a3.2,3.2 0 1,0 6.4,0a3.2,3.2 0 1,0 -6.4,0M405.3,846.8a3.2,3.2 0 1,0 6.4,0a3.2,3.2 0 1,0 -6.4,0M406.9,847.3a3.2,3.2 0 1,0 6.4,0a3.2,3.2 0 1,0 -6.4,0M408.5,847.9a3.2,3.2 0 1,0 6.4,0a3.2,3.2 0 1,0 -6.4,0M410.3,847.4a3.2,3.2 0 1,0 6.4,0a3.2,3.2 0 1,0 -6.4,0M411.9,847.5a3.2,3.2 0 1,0 6.4,0a3.2,3.2 0 1,0 -6.4,0M413.3,849.0a3.2,3.2 0 1,0 6.4,0a3.2,3.2 0 1,0 -6.4,0M415.2,848.2a3.2,3.2 0 1,0 6.4,0a3.2,3.2 0 1,0 -6.4,0M416.6,849.6a3.2,3.2 0 1,0 6.4,0a3.2,3.2 0 1,0 -6.4,0M418.4,849.0a3.2,3.2 0 1,0 6.4,0a3.2,3.2 0 1,0 -6.4,0M419.8,850.2a3.2,3.2 0 1,0 6.4,0a3.2,3.2 0 1,0 -6.4,0M421.4,850.5a3.2,3.2 0 1,0 6.4,0a3.2,3.2 0 1,0 -6.4,0M423.0,850.9a3.2,3.2 0 1,0 6.4,0a3.2,3.2 0 1,0 -6.4,0M424.7,850.9a3.2,3.2 0 1,0 6.4,0a3.2,3.2 0 1,0 -6.4,0M426.3,851.6a3.2,3.2 0 1,0 6.4,0a3.2,3.2 0 1,0 -6.4,0M428.1,851.1a3.2,3.2 0 1,0 6.4,0a3.2,3.2 0 1,0 -6.4,0M429.6,852.0a3.2,3.2 0 1,0 6.4,0a3.2,3.2 0 1,0 -6.4,0M431.3,852.0a3.2,3.2 0 1,0 6.4,0a3.2,3.2 0 1,0 -6.4,0M432.8,852.9a3.2,3.2 0 1,0 6.4,0a3.2,3.2 0 1,0 -6.4,0M434.4,853.1a3.2,3.2 0 1,0 6.4,0a3.2,3.2 0 1,0 -6.4,0M436.1,853.1a3.2,3.2 0 1,0 6.4,0a3.2,3.2 0 1,0 -6.4,0M437.7,853.5a3.2,3.2 0 1,0 6.4,0a3.2,3.2 0 1,0 -6.4,0M439.4,853.2a3.2,3.2 0 1,0 6.4,0a3.2,3.2 0 1,0 -6.4,0M441.1,853.5a3.2,3.2 0 1,0 6.4,0a3.2,3.2 0 1,0 -6.4,0M442.6,854.5a3.2,3.2 0 1,0 6.4,0a3.2,3.2 0 1,0 -6.4,0M444.2,854.7a3.2,3.2 0 1,0 6.4,0a3.2,3.2 0 1,0 -6.4,0M445.7,855.5a3.2,3.2 0 1,0 6.4,0a3.2,3.2 0 1,0 -6.4,0M447.4,855.5a3.2,3.2 0 1,0 6.4,0a3.2,3.2 0 1,0 -6.4,0M449.1,855.2a3.2,3.2 0 1,0 6.4,0a3.2,3.2 0 1,0 -6.4,0M450.7,855.8a3.2,3.2 0 1,0 6.4,0a3.2,3.2 0 1,0 -6.4,0M452.2,856.5a3.2,3.2 0 1,0 6.4,0a3.2,3.2 0 1,0 -6.4,0M453.9,856.5a3.2,3.2 0 1,0 6.4,0a3.2,3.2 0 1,0 -6.4,0M455.6,856.2a3.2,3.2 0 1,0 6.4,0a3.2,3.2 0 1,0 -6.4,0M457.0,857.5a3.2,3.2 0 1,0 6.4,0a3.2,3.2 0 1,0 -6.4,0M458.7,857.7a3.2,3.2 0 1,0 6.4,0a3.2,3.2 0 1,0 -6.4,0M460.3,857.1a3.2,3.2 0 1,0 6.4,0a3.2,3.2 0 1,0 -6.4,0M461.8,857.9a3.2,3.2 0 1,0 6.4,0a3.2,3.2 0 1,0 -6.4,0M463.5,857.9a3.2,3.2 0 1,0 6.4,0a3.2,3.2 0 1,0 -6.4,0M465.0,858.6a3.2,3.2 0 1,0 6.4,0a3.2,3.2 0 1,0 -6.4,0M466.7,858.2a3.2,3.2 0 1,0 6.4,0a3.2,3.2 0 1,0 -6.4,0M468.3,858.3a3.2,3.2 0 1,0 6.4,0a3.2,3.2 0 1,0 -6.4,0M469.9,858.8a3.2,3.2 0 1,0 6.4,0a3.2,3.2 0 1,0 -6.4,0M471.5,859.6a3.2,3.2 0 1,0 6.4,0a3.2,3.2 0 1,0 -6.4,0M473.2,858.7a3.2,3.2 0 1,0 6.4,0a3.2,3.2 0 1,0 -6.4,0M475.0,859.0a3.2,3.2 0 1,0 6.4,0a3.2,3.2 0 1,0 -6.4,0M476.8,859.9a3.2,3.2 0 1,0 6.4,0a3.2,3.2 0 1,0 -6.4,0M478.6,860.6a3.2,3.2 0 1,0 6.4,0a3.2,3.2 0 1,0 -6.4,0M480.5,860.4a3.2,3.2 0 1,0 6.4,0a3.2,3.2 0 1,0 -6.4,0M482.3,860.7a3.2,3.2 0 1,0 6.4,0a3.2,3.2 0 1,0 -6.4,0M483.8,861.4a3.2,3.2 0 1,0 6.4,0a3.2,3.2 0 1,0 -6.4,0M485.5,861.6a3.2,3.2 0 1,0 6.4,0a3.2,3.2 0 1,0 -6.4,0M487.2,861.0a3.2,3.2 0 1,0 6.4,0a3.2,3.2 0 1,0 -6.4,0M488.7,862.2a3.2,3.2 0 1,0 6.4,0a3.2,3.2 0 1,0 -6.4,0M490.4,861.6a3.2,3.2 0 1,0 6.4,0a3.2,3.2 0 1,0 -6.4,0M492.0,862.0a3.2,3.2 0 1,0 6.4,0a3.2,3.2 0 1,0 -6.4,0M493.6,862.8a3.2,3.2 0 1,0 6.4,0a3.2,3.2 0 1,0 -6.4,0M495.3,862.6a3.2,3.2 0 1,0 6.4,0a3.2,3.2 0 1,0 -6.4,0M496.8,863.3a3.2,3.2 0 1,0 6.4,0a3.2,3.2 0 1,0 -6.4,0M498.6,862.8a3.2,3.2 0 1,0 6.4,0a3.2,3.2 0 1,0 -6.4,0M500.1,863.9a3.2,3.2 0 1,0 6.4,0a3.2,3.2 0 1,0 -6.4,0M501.8,863.3a3.2,3.2 0 1,0 6.4,0a3.2,3.2 0 1,0 -6.4,0M503.4,863.5a3.2,3.2 0 1,0 6.4,0a3.2,3.2 0 1,0 -6.4,0M505.0,864.2a3.2,3.2 0 1,0 6.4,0a3.2,3.2 0 1,0 -6.4,0M506.6,864.2a3.2,3.2 0 1,0 6.4,0a3.2,3.2 0 1,0 -6.4,0M508.2,864.7a3.2,3.2 0 1,0 6.4,0a3.2,3.2 0 1,0 -6.4,0M509.8,865.4a3.2,3.2 0 1,0 6.4,0a3.2,3.2 0 1,0 -6.4,0M511.6,865.4a3.2,3.2 0 1,0 6.4,0a3.2,3.2 0 1,0 -6.4,0M513.4,864.9a3.2,3.2 0 1,0 6.4,0a3.2,3.2 0 1,0 -6.4,0M514.9,865.6a3.2,3.2 0 1,0 6.4,0a3.2,3.2 0 1,0 -6.4,0M516.5,866.2a3.2,3.2 0 1,0 6.4,0a3.2,3.2 0 1,0 -6.4,0M518.1,866.4a3.2,3.2 0 1,0 6.4,0a3.2,3.2 0 1,0 -6.4,0M519.7,867.0a3.2,3.2 0 1,0 6.4,0a3.2,3.2 0 1,0 -6.4,0M521.4,867.1a3.2,3.2 0 1,0 6.4,0a3.2,3.2 0 1,0 -6.4,0M523.1,866.9a3.2,3.2 0 1,0 6.4,0a3.2,3.2 0 1,0 -6.4,0M524.7,867.4a3.2,3.2 0 1,0 6.4,0a3.2,3.2 0 1,0 -6.4,0M526.0,868.4a3.2,3.2 0 1,0 6.4,0a3.2,3.2 0 1,0 -6.4,0M527.7,868.1a3.2,3.2 0 1,0 6.4,0a3.2,3.2 0 1,0 -6.4,0M529.3,868.8a3.2,3.2 0 1,0 6.4,0a3.2,3.2 0 1,0 -6.4,0M530.9,869.3a3.2,3.2 0 1,0 6.4,0a3.2,3.2 0 1,0 -6.4,0M532.5,869.2a3.2,3.2 0 1,0 6.4,0a3.2,3.2 0 1,0 -6.4,0M534.2,869.5a3.2,3.2 0 1,0 6.4,0a3.2,3.2 0 1,0 -6.4,0M535.8,869.6a3.2,3.2 0 1,0 6.4,0a3.2,3.2 0 1,0 -6.4,0M537.5,869.5a3.2,3.2 0 1,0 6.4,0a3.2,3.2 0 1,0 -6.4,0M539.0,870.5a3.2,3.2 0 1,0 6.4,0a3.2,3.2 0 1,0 -6.4,0M540.4,870.2a3.2,3.2 0 1,0 6.4,0a3.2,3.2 0 1,0 -6.4,0M542.0,870.8a3.2,3.2 0 1,0 6.4,0a3.2,3.2 0 1,0 -6.4,0M543.6,870.1a3.2,3.2 0 1,0 6.4,0a3.2,3.2 0 1,0 -6.4,0M545.2,870.9a3.2,3.2 0 1,0 6.4,0a3.2,3.2 0 1,0 -6.4,0M546.8,870.9a3.2,3.2 0 1,0 6.4,0a3.2,3.2 0 1,0 -6.4,0M548.5,870.7a3.2,3.2 0 1,0 6.4,0a3.2,3.2 0 1,0 -6.4,0M550.1,870.6a3.2,3.2 0 1,0 6.4,0a3.2,3.2 0 1,0 -6.4,0M551.7,870.3a3.2,3.2 0 1,0 6.4,0a3.2,3.2 0 1,0 -6.4,0M553.3,871.2a3.2,3.2 0 1,0 6.4,0a3.2,3.2 0 1,0 -6.4,0M555.3,870.8a3.2,3.2 0 1,0 6.4,0a3.2,3.2 0 1,0 -6.4,0M556.9,871.4a3.2,3.2 0 1,0 6.4,0a3.2,3.2 0 1,0 -6.4,0M558.6,871.0a3.2,3.2 0 1,0 6.4,0a3.2,3.2 0 1,0 -6.4,0M560.2,871.2a3.2,3.2 0 1,0 6.4,0a3.2,3.2 0 1,0 -6.4,0M561.8,871.5a3.2,3.2 0 1,0 6.4,0a3.2,3.2 0 1,0 -6.4,0M563.3,872.5a3.2,3.2 0 1,0 6.4,0a3.2,3.2 0 1,0 -6.4,0M565.1,872.0a3.2,3.2 0 1,0 6.4,0a3.2,3.2 0 1,0 -6.4,0M566.6,873.1a3.2,3.2 0 1,0 6.4,0a3.2,3.2 0 1,0 -6.4,0M568.3,872.7a3.2,3.2 0 1,0 6.4,0a3.2,3.2 0 1,0 -6.4,0M569.7,873.2a3.2,3.2 0 1,0 6.4,0a3.2,3.2 0 1,0 -6.4,0M571.6,873.1a3.2,3.2 0 1,0 6.4,0a3.2,3.2 0 1,0 -6.4,0M573.4,873.6a3.2,3.2 0 1,0 6.4,0a3.2,3.2 0 1,0 -6.4,0M575.3,873.2a3.2,3.2 0 1,0 6.4,0a3.2,3.2 0 1,0 -6.4,0M577.3,873.7a3.2,3.2 0 1,0 6.4,0a3.2,3.2 0 1,0 -6.4,0M578.8,874.6a3.2,3.2 0 1,0 6.4,0a3.2,3.2 0 1,0 -6.4,0M580.6,873.9a3.2,3.2 0 1,0 6.4,0a3.2,3.2 0 1,0 -6.4,0M582.1,874.8a3.2,3.2 0 1,0 6.4,0a3.2,3.2 0 1,0 -6.4,0M583.8,874.6a3.2,3.2 0 1,0 6.4,0a3.2,3.2 0 1,0 -6.4,0M585.4,874.8a3.2,3.2 0 1,0 6.4,0a3.2,3.2 0 1,0 -6.4,0M587.1,874.7a3.2,3.2 0 1,0 6.4,0a3.2,3.2 0 1,0 -6.4,0M588.7,875.0a3.2,3.2 0 1,0 6.4,0a3.2,3.2 0 1,0 -6.4,0M590.2,876.3a3.2,3.2 0 1,0 6.4,0a3.2,3.2 0 1,0 -6.4,0M591.7,876.4a3.2,3.2 0 1,0 6.4,0a3.2,3.2 0 1,0 -6.4,0M593.4,876.6a3.2,3.2 0 1,0 6.4,0a3.2,3.2 0 1,0 -6.4,0M595.0,876.8a3.2,3.2 0 1,0 6.4,0a3.2,3.2 0 1,0 -6.4,0M596.6,877.2a3.2,3.2 0 1,0 6.4,0a3.2,3.2 0 1,0 -6.4,0M598.3,876.4a3.2,3.2 0 1,0 6.4,0a3.2,3.2 0 1,0 -6.4,0M599.9,877.1a3.2,3.2 0 1,0 6.4,0a3.2,3.2 0 1,0 -6.4,0M601.5,877.2a3.2,3.2 0 1,0 6.4,0a3.2,3.2 0 1,0 -6.4,0M603.1,877.5a3.2,3.2 0 1,0 6.4,0a3.2,3.2 0 1,0 -6.4,0M604.7,878.1a3.2,3.2 0 1,0 6.4,0a3.2,3.2 0 1,0 -6.4,0M606.4,878.1a3.2,3.2 0 1,0 6.4,0a3.2,3.2 0 1,0 -6.4,0M608.0,878.6a3.2,3.2 0 1,0 6.4,0a3.2,3.2 0 1,0 -6.4,0M609.7,877.8a3.2,3.2 0 1,0 6.4,0a3.2,3.2 0 1,0 -6.4,0M611.3,878.6a3.2,3.2 0 1,0 6.4,0a3.2,3.2 0 1,0 -6.4,0M612.9,878.9a3.2,3.2 0 1,0 6.4,0a3.2,3.2 0 1,0 -6.4,0M614.5,879.2a3.2,3.2 0 1,0 6.4,0a3.2,3.2 0 1,0 -6.4,0M616.1,879.2a3.2,3.2 0 1,0 6.4,0a3.2,3.2 0 1,0 -6.4,0M617.7,879.7a3.2,3.2 0 1,0 6.4,0a3.2,3.2 0 1,0 -6.4,0M619.4,879.3a3.2,3.2 0 1,0 6.4,0a3.2,3.2 0 1,0 -6.4,0M621.0,880.2a3.2,3.2 0 1,0 6.4,0a3.2,3.2 0 1,0 -6.4,0M622.7,879.9a3.2,3.2 0 1,0 6.4,0a3.2,3.2 0 1,0 -6.4,0M624.3,880.3a3.2,3.2 0 1,0 6.4,0a3.2,3.2 0 1,0 -6.4,0M625.9,880.9a3.2,3.2 0 1,0 6.4,0a3.2,3.2 0 1,0 -6.4,0M627.5,881.0a3.2,3.2 0 1,0 6.4,0a3.2,3.2 0 1,0 -6.4,0M629.2,880.7a3.2,3.2 0 1,0 6.4,0a3.2,3.2 0 1,0 -6.4,0M630.9,880.9a3.2,3.2 0 1,0 6.4,0a3.2,3.2 0 1,0 -6.4,0M632.5,881.2a3.2,3.2 0 1,0 6.4,0a3.2,3.2 0 1,0 -6.4,0M634.0,881.8a3.2,3.2 0 1,0 6.4,0a3.2,3.2 0 1,0 -6.4,0M635.4,882.5a3.2,3.2 0 1,0 6.4,0a3.2,3.2 0 1,0 -6.4,0M637.1,882.5a3.2,3.2 0 1,0 6.4,0a3.2,3.2 0 1,0 -6.4,0M638.8,882.1a3.2,3.2 0 1,0 6.4,0a3.2,3.2 0 1,0 -6.4,0M640.4,882.3a3.2,3.2 0 1,0 6.4,0a3.2,3.2 0 1,0 -6.4,0M642.0,882.9a3.2,3.2 0 1,0 6.4,0a3.2,3.2 0 1,0 -6.4,0M643.6,882.4a3.2,3.2 0 1,0 6.4,0a3.2,3.2 0 1,0 -6.4,0M645.2,882.7a3.2,3.2 0 1,0 6.4,0a3.2,3.2 0 1,0 -6.4,0M646.9,882.4a3.2,3.2 0 1,0 6.4,0a3.2,3.2 0 1,0 -6.4,0M648.5,882.8a3.2,3.2 0 1,0 6.4,0a3.2,3.2 0 1,0 -6.4,0M650.1,883.4a3.2,3.2 0 1,0 6.4,0a3.2,3.2 0 1,0 -6.4,0M651.8,883.7a3.2,3.2 0 1,0 6.4,0a3.2,3.2 0 1,0 -6.4,0M653.4,883.8a3.2,3.2 0 1,0 6.4,0a3.2,3.2 0 1,0 -6.4,0M655.1,883.7a3.2,3.2 0 1,0 6.4,0a3.2,3.2 0 1,0 -6.4,0M656.6,884.5a3.2,3.2 0 1,0 6.4,0a3.2,3.2 0 1,0 -6.4,0M658.3,884.3a3.2,3.2 0 1,0 6.4,0a3.2,3.2 0 1,0 -6.4,0M660.0,883.9a3.2,3.2 0 1,0 6.4,0a3.2,3.2 0 1,0 -6.4,0M661.7,884.0a3.2,3.2 0 1,0 6.4,0a3.2,3.2 0 1,0 -6.4,0M663.2,885.3a3.2,3.2 0 1,0 6.4,0a3.2,3.2 0 1,0 -6.4,0M664.9,885.4a3.2,3.2 0 1,0 6.4,0a3.2,3.2 0 1,0 -6.4,0M666.5,885.5a3.2,3.2 0 1,0 6.4,0a3.2,3.2 0 1,0 -6.4,0M668.2,885.3a3.2,3.2 0 1,0 6.4,0a3.2,3.2 0 1,0 -6.4,0M669.9,885.2a3.2,3.2 0 1,0 6.4,0a3.2,3.2 0 1,0 -6.4,0M671.5,885.1a3.2,3.2 0 1,0 6.4,0a3.2,3.2 0 1,0 -6.4,0" fill="#ff0000"/>
<circle cx="138" cy="680.2" r="3.2" fill="#ff0000"/><circle cx="138" cy="691.3" r="3.2" fill="#ff0000"/>
</g>
<line x1="126.5" y1="570.8" x2="135.4" y2="570.8" stroke="#000" stroke-width="2"/>
<text transform="translate(122.2,579.3) scale(1,1.05)" font-size="29.5" text-anchor="end">0.0</text>
<line x1="130.2" y1="625.3" x2="135.4" y2="625.3" stroke="#000" stroke-width="2"/>
<line x1="126.5" y1="679.8" x2="135.4" y2="679.8" stroke="#000" stroke-width="2"/>
<text transform="translate(122.2,688.25) scale(1,1.05)" font-size="29.5" text-anchor="end">-0.1</text>
<line x1="130.2" y1="734.2" x2="135.4" y2="734.2" stroke="#000" stroke-width="2"/>
<line x1="126.5" y1="788.7" x2="135.4" y2="788.7" stroke="#000" stroke-width="2"/>
<text transform="translate(122.2,797.1999999999999) scale(1,1.05)" font-size="29.5" text-anchor="end">-0.2</text>
<line x1="130.2" y1="843.2" x2="135.4" y2="843.2" stroke="#000" stroke-width="2"/>
<line x1="126.5" y1="897.6" x2="135.4" y2="897.6" stroke="#000" stroke-width="2"/>
<text transform="translate(122.2,906.15) scale(1,1.05)" font-size="29.5" text-anchor="end">-0.3</text>
<line x1="130.2" y1="952.1" x2="135.4" y2="952.1" stroke="#000" stroke-width="2"/>
<line x1="126.5" y1="1006.6" x2="135.4" y2="1006.6" stroke="#000" stroke-width="2"/>
<text transform="translate(122.2,1015.0999999999999) scale(1,1.05)" font-size="29.5" text-anchor="end">-0.4</text>
<line x1="137.5" y1="1006.6" x2="137.5" y2="1015.3" stroke="#000" stroke-width="2.1"/>
<text transform="translate(137.5,1042.3) scale(1,1.05)" font-size="29.5" text-anchor="middle">0</text>
<line x1="182.1" y1="1006.6" x2="182.1" y2="1011.6" stroke="#000" stroke-width="2"/>
<line x1="226.7" y1="1006.6" x2="226.7" y2="1015.3" stroke="#000" stroke-width="2.1"/>
<text transform="translate(226.7,1042.3) scale(1,1.05)" font-size="29.5" text-anchor="middle">1</text>
<line x1="271.2" y1="1006.6" x2="271.2" y2="1011.6" stroke="#000" stroke-width="2"/>
<line x1="315.8" y1="1006.6" x2="315.8" y2="1015.3" stroke="#000" stroke-width="2.1"/>
<text transform="translate(315.8,1042.3) scale(1,1.05)" font-size="29.5" text-anchor="middle">2</text>
<line x1="360.4" y1="1006.6" x2="360.4" y2="1011.6" stroke="#000" stroke-width="2"/>
<line x1="405.0" y1="1006.6" x2="405.0" y2="1015.3" stroke="#000" stroke-width="2.1"/>
<text transform="translate(405.0,1042.3) scale(1,1.05)" font-size="29.5" text-anchor="middle">3</text>
<line x1="449.5" y1="1006.6" x2="449.5" y2="1011.6" stroke="#000" stroke-width="2"/>
<line x1="494.1" y1="1006.6" x2="494.1" y2="1015.3" stroke="#000" stroke-width="2.1"/>
<text transform="translate(494.1,1042.3) scale(1,1.05)" font-size="29.5" text-anchor="middle">4</text>
<line x1="538.7" y1="1006.6" x2="538.7" y2="1011.6" stroke="#000" stroke-width="2"/>
<line x1="583.2" y1="1006.6" x2="583.2" y2="1015.3" stroke="#000" stroke-width="2.1"/>
<text transform="translate(583.2,1042.3) scale(1,1.05)" font-size="29.5" text-anchor="middle">5</text>
<line x1="627.8" y1="1006.6" x2="627.8" y2="1011.6" stroke="#000" stroke-width="2"/>
<line x1="672.4" y1="1006.6" x2="672.4" y2="1015.3" stroke="#000" stroke-width="2.1"/>
<text transform="translate(672.4,1042.3) scale(1,1.05)" font-size="29.5" text-anchor="middle">6</text>
<text transform="translate(56.8,807.6) rotate(-90)" font-size="29.5" text-anchor="middle">Potential (V vs RHE)</text>
<text transform="translate(404.5,1089.8) scale(1,1.05)" font-size="29.5" text-anchor="middle">Time (hrs)</text>
<circle cx="468.5" cy="591.6" r="3.4" fill="#0000ff"/>
<circle cx="468.5" cy="633.2" r="3.4" fill="#ff0000"/>
<text transform="translate(508.5,601.4) scale(0.975,1.05)" font-size="29.5">Pt@HB01</text>
<text transform="translate(509.2,642.7) scale(1,1.05)" font-size="29.5" text-anchor="start">Pt@Nafion</text>
<text x="642" y="626.5" font-size="16" text-anchor="start">TM</text>
<text x="4.5" y="598" font-size="19.5" text-anchor="start" font-weight="bold" style="stroke-width:0.25px">(B)</text>
</svg></body></html>
